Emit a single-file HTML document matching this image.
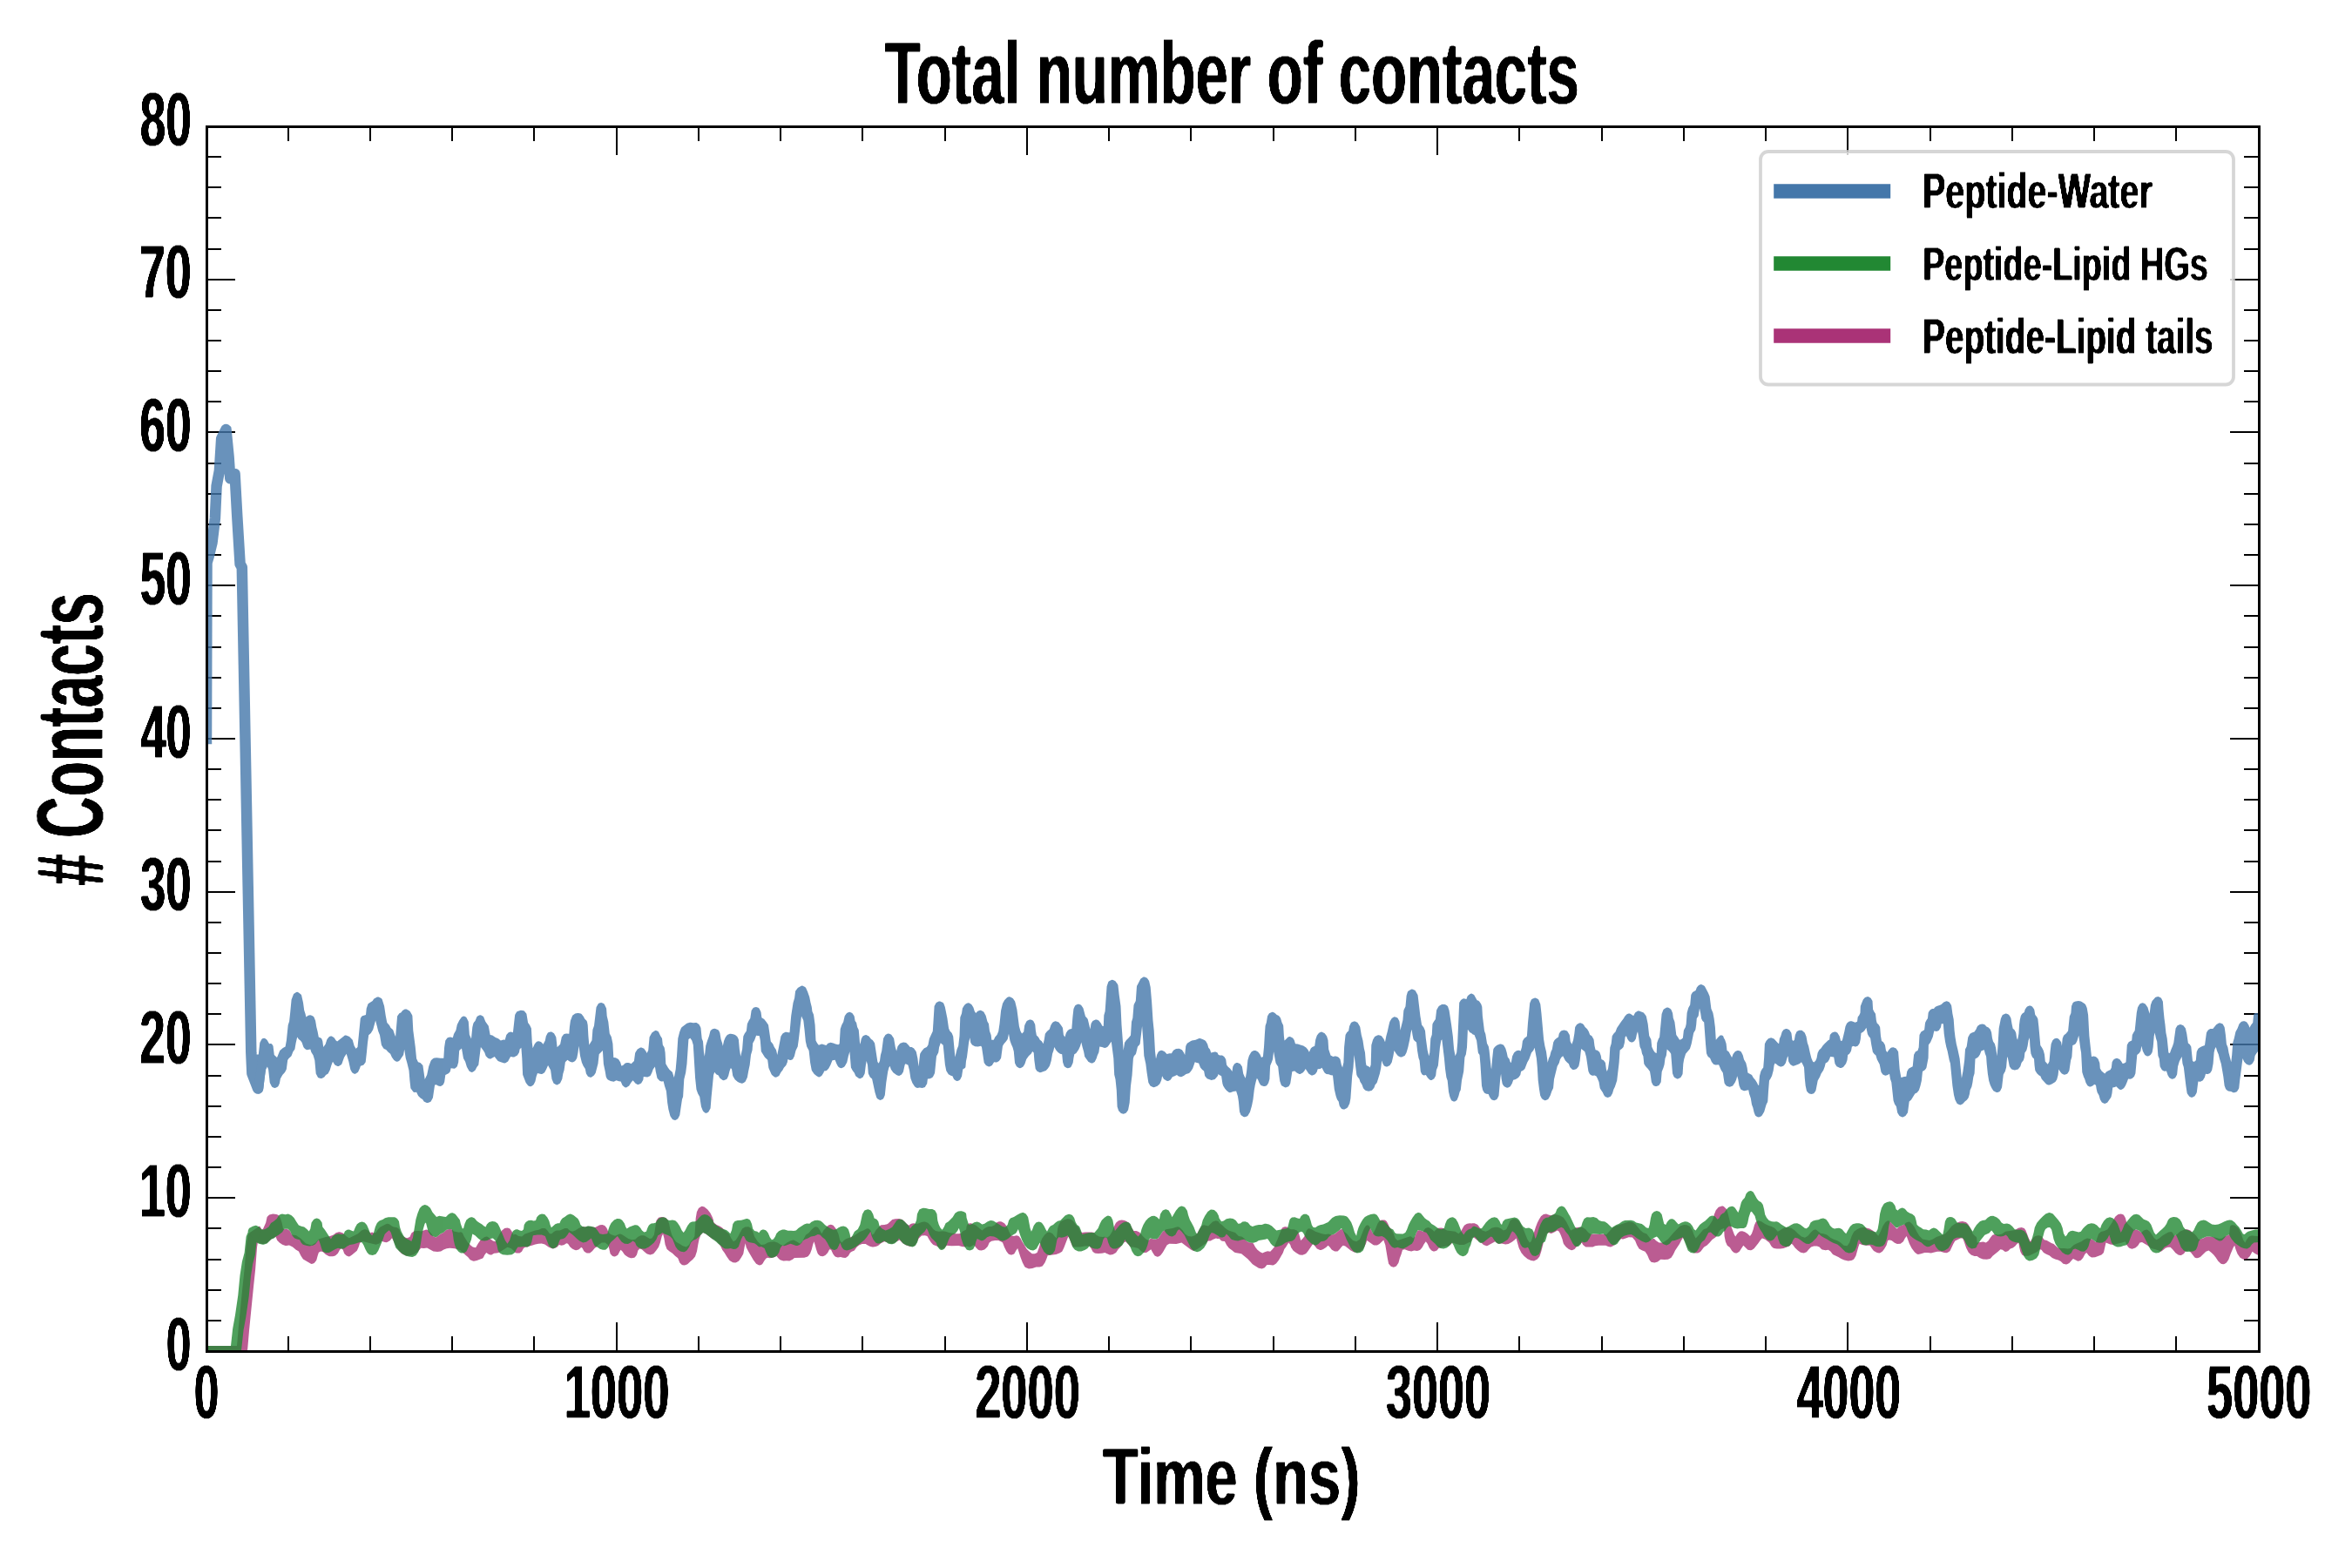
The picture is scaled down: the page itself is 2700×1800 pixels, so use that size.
<!DOCTYPE html>
<html lang="en"><head><meta charset="utf-8"><title>Total number of contacts</title>
<style>html,body{margin:0;padding:0;background:#fff}svg{display:block}</style></head>
<body>
<svg width="2700" height="1800" viewBox="0 0 2700 1800">
<defs><filter id="tw" filterUnits="userSpaceOnUse" x="0" y="0" width="2700" height="1800"><feGaussianBlur in="SourceGraphic" stdDeviation="0.8 0"/><feComponentTransfer><feFuncA type="linear" slope="3" intercept="-0.4"/></feComponentTransfer><feGaussianBlur stdDeviation="0 0.8"/><feComponentTransfer><feFuncA type="linear" slope="3" intercept="-1.6"/></feComponentTransfer></filter><filter id="twr" filterUnits="userSpaceOnUse" x="0" y="0" width="2700" height="1800"><feGaussianBlur in="SourceGraphic" stdDeviation="0 0.8"/><feComponentTransfer><feFuncA type="linear" slope="3" intercept="-0.4"/></feComponentTransfer><feGaussianBlur stdDeviation="0.8 0"/><feComponentTransfer><feFuncA type="linear" slope="3" intercept="-1.6"/></feComponentTransfer></filter><clipPath id="ax"><rect x="237.5" y="145.5" width="2356.0" height="1406.0"/></clipPath></defs>
<rect width="2700" height="1800" fill="#fff"/>
<path d="M237,1551.5v-33.5M237,145.5v32.5M331,1551.5v-17.5M331,145.5v16.5M425,1551.5v-17.5M425,145.5v16.5M519,1551.5v-17.5M519,145.5v16.5M613,1551.5v-17.5M613,145.5v16.5M708,1551.5v-33.5M708,145.5v32.5M802,1551.5v-17.5M802,145.5v16.5M896,1551.5v-17.5M896,145.5v16.5M990,1551.5v-17.5M990,145.5v16.5M1085,1551.5v-17.5M1085,145.5v16.5M1179,1551.5v-33.5M1179,145.5v32.5M1273,1551.5v-17.5M1273,145.5v16.5M1367,1551.5v-17.5M1367,145.5v16.5M1462,1551.5v-17.5M1462,145.5v16.5M1556,1551.5v-17.5M1556,145.5v16.5M1650,1551.5v-33.5M1650,145.5v32.5M1744,1551.5v-17.5M1744,145.5v16.5M1839,1551.5v-17.5M1839,145.5v16.5M1933,1551.5v-17.5M1933,145.5v16.5M2027,1551.5v-17.5M2027,145.5v16.5M2121,1551.5v-33.5M2121,145.5v32.5M2216,1551.5v-17.5M2216,145.5v16.5M2310,1551.5v-17.5M2310,145.5v16.5M2404,1551.5v-17.5M2404,145.5v16.5M2498,1551.5v-17.5M2498,145.5v16.5M2593,1551.5v-33.5M2593,145.5v32.5M237.5,1551h32.5M2593.5,1551h-33.5M237.5,1516h16.5M2593.5,1516h-17.5M237.5,1481h16.5M2593.5,1481h-17.5M237.5,1446h16.5M2593.5,1446h-17.5M237.5,1410h16.5M2593.5,1410h-17.5M237.5,1375h32.5M2593.5,1375h-33.5M237.5,1340h16.5M2593.5,1340h-17.5M237.5,1305h16.5M2593.5,1305h-17.5M237.5,1270h16.5M2593.5,1270h-17.5M237.5,1235h16.5M2593.5,1235h-17.5M237.5,1199h32.5M2593.5,1199h-33.5M237.5,1164h16.5M2593.5,1164h-17.5M237.5,1129h16.5M2593.5,1129h-17.5M237.5,1094h16.5M2593.5,1094h-17.5M237.5,1059h16.5M2593.5,1059h-17.5M237.5,1024h32.5M2593.5,1024h-33.5M237.5,989h16.5M2593.5,989h-17.5M237.5,953h16.5M2593.5,953h-17.5M237.5,918h16.5M2593.5,918h-17.5M237.5,883h16.5M2593.5,883h-17.5M237.5,848h32.5M2593.5,848h-33.5M237.5,813h16.5M2593.5,813h-17.5M237.5,778h16.5M2593.5,778h-17.5M237.5,743h16.5M2593.5,743h-17.5M237.5,707h16.5M2593.5,707h-17.5M237.5,672h32.5M2593.5,672h-33.5M237.5,637h16.5M2593.5,637h-17.5M237.5,602h16.5M2593.5,602h-17.5M237.5,567h16.5M2593.5,567h-17.5M237.5,532h16.5M2593.5,532h-17.5M237.5,496h32.5M2593.5,496h-33.5M237.5,461h16.5M2593.5,461h-17.5M237.5,426h16.5M2593.5,426h-17.5M237.5,391h16.5M2593.5,391h-17.5M237.5,356h16.5M2593.5,356h-17.5M237.5,321h32.5M2593.5,321h-33.5M237.5,286h16.5M2593.5,286h-17.5M237.5,250h16.5M2593.5,250h-17.5M237.5,215h16.5M2593.5,215h-17.5M237.5,180h16.5M2593.5,180h-17.5M237.5,145h32.5M2593.5,145h-33.5" stroke="#000" stroke-width="2" fill="none"/>
<g clip-path="url(#ax)">
<g opacity="0.8" fill="#AA3377" stroke="#AA3377" stroke-linejoin="round">
<polyline fill="none" stroke-width="12.5" stroke-linecap="square" points="230.0,1551.3 277.7,1551.3 279.9,1525.8 281.8,1506.7 283.7,1487.6 285.0,1474.8 286.9,1456.9 288.8,1431.4 290.6,1419.9 296.3,1416.1"/>
<path stroke="none" d="M295.6,1424.6L295.9,1426.0L296.9,1427.0L300.8,1428.1L302.0,1428.1L306.5,1426.9L309.8,1423.7L312.7,1421.4L316.7,1420.0L318.1,1423.7L320.8,1426.5L324.1,1428.7L327.6,1430.0L328.8,1430.1L332.0,1429.5L336.0,1431.5L339.5,1434.5L342.9,1436.5L345.5,1441.8L348.0,1445.4L356.5,1450.6L357.6,1450.9L358.7,1450.7L360.7,1449.9L362.9,1447.2L363.4,1446.2L364.6,1441.7L365.9,1437.8L368.4,1436.5L370.9,1437.2L373.8,1440.1L377.4,1442.0L378.5,1442.3L382.0,1442.2L384.2,1441.8L385.5,1441.1L387.9,1438.7L390.0,1434.8L392.0,1432.7L393.8,1435.1L395.0,1438.5L395.6,1439.5L397.8,1441.6L399.7,1442.3L400.9,1442.4L401.9,1441.9L404.1,1440.4L409.8,1435.8L411.7,1431.6L413.1,1427.0L416.2,1425.1L431.5,1428.8L435.3,1427.5L437.9,1424.4L440.8,1425.8L443.4,1426.2L444.5,1426.1L447.1,1424.6L447.8,1424.1L450.0,1421.3L455.1,1431.3L457.8,1435.4L460.9,1439.0L466.0,1441.6L470.1,1441.6L474.9,1440.3L479.8,1436.7L483.2,1432.7L486.6,1432.9L490.2,1432.5L497.5,1436.4L502.1,1437.1L506.1,1436.5L509.4,1434.6L512.7,1433.3L516.2,1432.7L519.5,1433.0L522.0,1433.3L524.6,1434.0L528.5,1435.3L529.9,1437.0L531.6,1438.1L534.1,1440.6L537.1,1443.0L539.8,1446.2L542.8,1447.6L543.9,1447.8L547.5,1446.9L551.3,1445.6L554.1,1444.5L554.9,1443.5L556.4,1440.5L558.3,1438.0L560.4,1439.6L561.3,1440.0L562.9,1440.5L564.3,1440.5L567.2,1438.7L570.0,1438.6L572.5,1437.9L575.0,1436.6L582.5,1431.7L586.5,1433.0L589.4,1435.4L591.5,1437.9L593.0,1438.5L595.7,1438.6L596.5,1438.5L597.2,1438.1L599.0,1436.7L601.0,1432.9L602.9,1431.7L605.4,1431.6L608.5,1430.2L610.7,1429.7L614.5,1428.4L618.2,1427.8L621.8,1427.6L625.4,1428.6L630.0,1431.7L633.9,1433.2L635.1,1433.4L639.8,1431.5L641.8,1429.1L644.4,1429.7L647.0,1429.2L648.0,1428.7L650.2,1427.2L652.0,1427.8L654.3,1431.3L656.9,1433.4L660.0,1435.0L661.3,1435.3L664.2,1434.4L665.2,1433.8L667.3,1431.7L668.7,1433.1L670.2,1436.1L671.1,1437.1L673.7,1438.6L676.0,1438.6L677.1,1438.4L679.9,1436.3L682.8,1432.8L684.7,1431.5L687.2,1429.0L690.8,1426.6L694.7,1426.5L697.9,1429.1L699.2,1433.0L700.6,1439.2L702.9,1441.8L704.0,1442.2L705.9,1442.4L707.0,1442.0L708.8,1440.9L709.7,1439.9L711.3,1436.8L712.6,1434.8L714.6,1436.8L716.8,1440.1L717.5,1440.8L721.2,1443.2L724.1,1444.2L725.3,1444.3L728.2,1443.7L729.1,1443.0L731.0,1440.5L732.4,1435.5L734.3,1433.6L736.8,1434.2L739.5,1436.8L742.2,1439.0L743.0,1439.4L746.4,1440.4L747.2,1440.3L750.2,1439.2L753.3,1435.6L756.1,1431.4L757.9,1426.4L759.8,1419.0L761.1,1416.4L762.4,1421.5L763.6,1428.8L765.6,1434.1L768.6,1436.6L772.0,1438.8L775.0,1441.7L778.2,1444.3L780.3,1449.5L782.2,1451.5L783.5,1452.2L785.9,1452.6L788.7,1451.6L789.5,1451.0L792.3,1448.3L795.3,1445.8L797.8,1442.8L798.2,1442.1L800.0,1436.5L801.3,1429.1L802.6,1422.6L804.5,1417.6L807.0,1415.1L810.3,1416.4L816.7,1421.5L818.1,1422.4L819.7,1422.8L822.2,1424.7L824.7,1427.2L827.1,1430.2L829.3,1435.1L831.6,1437.9L834.3,1442.6L837.1,1446.5L837.9,1447.2L841.3,1449.2L844.3,1449.4L845.7,1449.1L848.2,1447.5L850.8,1443.8L853.1,1439.7L853.4,1438.8L854.6,1431.7L855.7,1427.2L856.7,1431.9L859.2,1436.8L864.9,1446.4L868.1,1450.7L870.9,1452.2L872.2,1452.4L874.2,1451.7L875.2,1451.1L877.6,1447.0L879.5,1444.4L881.4,1443.8L883.3,1444.3L887.4,1443.8L891.6,1441.9L893.1,1443.9L895.5,1446.2L899.3,1447.5L903.0,1447.2L906.3,1447.5L909.9,1445.8L912.0,1444.1L923.2,1443.8L926.6,1442.7L927.8,1441.9L930.0,1438.9L931.8,1434.3L933.1,1429.1L934.4,1425.3L935.6,1429.1L937.0,1434.3L938.6,1438.8L939.2,1439.7L941.4,1441.7L944.3,1442.3L945.3,1442.1L947.4,1441.0L950.1,1438.3L952.2,1434.2L954.1,1434.8L956.3,1439.6L958.2,1442.0L959.2,1442.7L961.8,1443.6L965.0,1442.9L967.8,1443.8L970.4,1444.0L971.5,1443.6L973.8,1441.8L976.0,1437.9L977.9,1436.7L980.8,1435.4L983.6,1431.5L986.5,1429.2L989.7,1427.9L993.7,1428.1L996.1,1429.6L998.5,1430.8L1001.5,1431.5L1002.5,1431.5L1005.4,1430.9L1008.0,1429.9L1011.6,1427.1L1015.4,1425.3L1023.3,1427.8L1024.6,1427.8L1032.6,1423.4L1036.2,1427.0L1039.8,1429.2L1044.7,1430.9L1048.7,1430.5L1050.0,1429.9L1050.4,1429.4L1052.4,1426.4L1054.8,1421.6L1058.0,1418.4L1061.8,1418.2L1064.4,1418.9L1066.5,1422.8L1068.8,1426.3L1071.1,1428.7L1072.1,1429.3L1074.8,1430.2L1077.1,1431.6L1079.3,1433.3L1080.5,1433.8L1081.7,1433.8L1084.2,1432.8L1086.8,1429.7L1088.9,1430.1L1092.4,1430.3L1100.6,1430.1L1104.1,1431.0L1107.8,1431.6L1108.5,1431.5L1109.6,1430.6L1112.4,1431.4L1113.7,1431.4L1117.9,1429.1L1120.9,1432.8L1123.0,1434.7L1124.3,1435.3L1126.8,1435.6L1130.1,1434.4L1131.0,1433.8L1133.5,1431.3L1134.0,1430.6L1135.7,1426.5L1138.1,1424.7L1142.2,1424.0L1146.1,1424.1L1149.0,1425.2L1151.0,1426.5L1153.0,1431.8L1155.4,1436.5L1157.5,1439.3L1158.1,1439.8L1158.8,1440.1L1160.3,1440.6L1161.5,1440.6L1164.1,1439.4L1164.8,1438.5L1166.4,1435.4L1168.2,1432.9L1171.5,1443.2L1173.9,1449.4L1176.1,1453.8L1176.4,1454.3L1177.4,1455.0L1181.0,1456.4L1185.2,1455.9L1189.5,1454.6L1193.5,1454.5L1196.6,1453.4L1197.4,1452.6L1199.6,1449.3L1201.4,1445.1L1202.7,1441.2L1208.5,1440.5L1212.4,1439.9L1216.3,1438.5L1219.2,1436.7L1221.2,1432.8L1226.3,1419.6L1227.6,1422.1L1230.8,1430.0L1231.4,1431.0L1231.9,1431.3L1233.1,1431.6L1240.0,1431.6L1245.6,1430.4L1250.5,1430.6L1252.5,1433.0L1254.4,1436.7L1256.3,1438.2L1257.6,1438.7L1260.9,1439.0L1265.0,1438.7L1268.4,1438.0L1273.8,1440.6L1275.0,1440.6L1277.6,1440.0L1281.1,1438.0L1283.6,1434.3L1286.3,1431.5L1290.0,1426.6L1292.6,1425.3L1293.5,1426.8L1295.7,1429.0L1297.0,1430.6L1297.8,1431.4L1299.0,1431.6L1301.7,1431.7L1306.6,1432.9L1310.2,1436.4L1313.0,1437.9L1315.3,1438.0L1316.4,1437.8L1321.3,1434.2L1323.3,1438.1L1325.6,1441.5L1326.6,1442.1L1328.6,1442.7L1329.9,1442.4L1331.7,1441.4L1332.5,1440.8L1334.8,1437.8L1339.7,1429.2L1342.4,1427.8L1350.4,1428.0L1356.4,1426.6L1367.0,1434.6L1369.4,1435.7L1370.7,1435.8L1374.4,1434.1L1381.8,1429.1L1385.0,1426.6L1387.0,1424.6L1389.5,1424.5L1392.8,1422.7L1395.9,1421.5L1397.6,1422.1L1398.9,1422.1L1399.6,1421.7L1401.9,1424.3L1403.1,1424.7L1405.9,1425.0L1408.1,1429.3L1410.8,1432.7L1414.3,1435.2L1416.9,1437.5L1418.1,1438.1L1425.1,1439.3L1432.1,1445.1L1435.2,1448.2L1437.6,1451.1L1438.2,1451.6L1444.9,1455.8L1448.7,1456.4L1451.8,1455.2L1454.4,1452.1L1457.5,1452.0L1461.1,1452.6L1462.2,1452.2L1464.9,1450.4L1467.9,1446.7L1472.8,1438.2L1474.3,1434.0L1476.2,1431.5L1479.3,1426.6L1481.2,1429.1L1482.1,1432.0L1484.7,1435.7L1487.7,1438.1L1491.0,1440.0L1491.9,1440.4L1495.2,1440.7L1498.4,1439.5L1499.5,1438.8L1501.7,1436.0L1507.3,1427.8L1511.9,1433.5L1515.3,1435.0L1516.5,1434.9L1519.1,1434.0L1522.2,1432.1L1524.6,1429.7L1526.4,1431.6L1528.7,1434.5L1529.4,1435.1L1532.2,1436.6L1534.6,1436.5L1535.4,1436.4L1536.0,1435.9L1537.8,1434.3L1539.9,1431.6L1541.8,1429.7L1544.3,1430.4L1550.6,1435.4L1553.5,1437.1L1554.4,1437.5L1557.7,1437.9L1561.5,1436.7L1565.1,1433.2L1567.9,1428.0L1569.2,1424.0L1576.3,1429.0L1577.5,1429.4L1579.9,1429.6L1580.7,1429.6L1581.4,1429.3L1583.6,1428.0L1588.3,1423.4L1590.3,1429.2L1592.8,1444.3L1594.1,1450.7L1596.7,1453.8L1599.0,1454.6L1599.8,1454.7L1600.6,1454.5L1602.9,1453.5L1605.4,1449.8L1606.9,1444.3L1608.7,1439.4L1610.0,1435.0L1610.2,1434.8L1612.6,1434.2L1616.5,1435.8L1620.2,1436.6L1623.4,1435.5L1626.6,1436.0L1627.9,1435.8L1629.8,1435.1L1630.8,1434.3L1632.8,1431.8L1634.8,1427.9L1636.8,1425.3L1638.8,1427.9L1640.8,1432.5L1642.8,1434.9L1643.8,1435.7L1645.4,1436.4L1646.7,1436.5L1649.5,1435.4L1651.7,1432.8L1655.4,1431.6L1660.3,1430.4L1662.9,1430.2L1665.4,1428.6L1667.4,1426.6L1670.8,1427.8L1675.4,1429.0L1680.2,1429.1L1681.3,1428.8L1685.8,1426.6L1688.2,1425.7L1689.1,1424.6L1689.6,1421.2L1691.5,1420.2L1695.5,1423.4L1700.3,1426.5L1703.0,1429.0L1706.4,1430.2L1707.7,1429.9L1716.3,1425.3L1718.8,1427.2L1719.9,1427.7L1723.8,1427.6L1728.2,1428.4L1731.6,1428.0L1735.6,1425.8L1738.6,1423.4L1740.6,1421.5L1741.9,1426.6L1743.7,1432.7L1746.5,1438.2L1749.7,1442.0L1753.6,1445.2L1757.5,1447.0L1761.0,1447.4L1764.8,1445.6L1767.1,1442.8L1767.5,1442.1L1769.3,1436.6L1773.1,1421.6L1775.7,1416.3L1777.6,1415.1L1780.5,1415.9L1781.6,1415.7L1784.7,1414.3L1787.8,1412.5L1789.7,1413.8L1791.6,1417.5L1793.5,1422.6L1794.7,1427.3L1795.2,1428.2L1797.8,1431.4L1800.9,1434.0L1804.0,1435.2L1805.3,1435.1L1807.5,1434.1L1809.6,1431.5L1815.8,1426.6L1817.2,1429.0L1819.6,1431.1L1820.6,1431.6L1827.5,1431.6L1828.4,1431.5L1831.3,1430.3L1835.1,1429.7L1843.3,1429.7L1846.1,1431.1L1848.7,1431.5L1849.8,1431.2L1851.8,1430.2L1854.8,1427.7L1858.6,1423.9L1861.1,1422.1L1862.1,1422.5L1863.4,1422.4L1869.8,1420.2L1873.9,1420.4L1877.1,1424.2L1879.1,1429.3L1881.6,1433.5L1885.3,1435.4L1888.5,1436.8L1891.0,1440.4L1893.3,1446.0L1895.0,1448.2L1895.9,1448.9L1896.4,1449.0L1899.4,1449.6L1902.9,1448.4L1906.4,1445.7L1910.7,1445.9L1914.7,1445.7L1915.9,1445.3L1918.5,1443.7L1920.9,1440.1L1923.0,1435.4L1928.0,1427.9L1930.0,1423.9L1931.9,1420.8L1934.5,1425.3L1937.5,1432.5L1938.0,1433.3L1941.2,1436.4L1945.3,1438.6L1948.4,1438.6L1949.7,1438.3L1951.9,1437.0L1952.6,1436.3L1956.0,1431.8L1959.6,1429.5L1962.6,1426.4L1965.6,1422.9L1969.2,1420.4L1971.6,1417.4L1973.5,1413.6L1975.8,1411.3L1979.1,1410.0L1979.6,1419.3L1980.9,1425.5L1982.8,1429.7L1985.8,1432.1L1988.1,1435.7L1989.9,1437.5L1991.2,1438.2L1992.6,1438.5L1993.9,1438.4L1996.7,1436.7L2001.3,1429.7L2006.4,1434.7L2009.3,1435.3L2009.9,1435.3L2011.0,1435.0L2013.6,1433.2L2018.4,1427.3L2021.0,1423.4L2022.9,1421.5L2026.3,1422.8L2031.1,1426.4L2033.4,1430.6L2035.1,1432.3L2036.5,1433.0L2039.7,1433.5L2043.8,1433.5L2047.5,1433.0L2054.1,1430.5L2056.7,1427.8L2058.1,1429.1L2060.7,1432.4L2063.9,1435.6L2067.0,1437.7L2070.8,1438.5L2073.9,1437.3L2076.6,1434.1L2079.1,1431.6L2082.2,1430.4L2085.9,1430.6L2088.6,1431.6L2090.7,1433.7L2091.8,1434.4L2094.6,1435.1L2095.5,1435.2L2098.8,1434.8L2101.3,1436.6L2103.6,1439.5L2104.4,1440.2L2110.3,1443.1L2113.6,1445.1L2117.1,1446.6L2121.6,1447.5L2125.4,1447.0L2127.5,1446.0L2128.5,1445.0L2130.5,1441.5L2133.3,1431.6L2134.6,1427.8L2137.5,1429.1L2142.0,1429.7L2146.6,1429.7L2148.7,1433.0L2150.8,1435.7L2151.5,1436.3L2154.7,1438.1L2157.2,1438.5L2158.3,1438.2L2160.3,1437.0L2161.0,1436.4L2163.1,1433.7L2165.6,1429.4L2167.1,1424.0L2169.0,1423.4L2171.4,1423.9L2175.0,1426.7L2177.9,1428.0L2181.7,1427.7L2184.9,1425.2L2186.8,1421.5L2188.7,1418.9L2191.9,1427.7L2194.6,1433.1L2198.0,1437.6L2200.5,1439.6L2201.9,1440.1L2205.3,1439.3L2209.4,1438.0L2212.9,1438.0L2216.8,1438.6L2220.7,1437.4L2224.0,1436.7L2227.8,1436.8L2231.8,1438.0L2234.4,1438.2L2235.5,1438.0L2238.0,1436.5L2238.8,1435.5L2242.3,1427.9L2244.3,1424.6L2250.5,1421.5L2253.0,1421.4L2253.2,1421.6L2255.1,1426.5L2257.1,1432.4L2259.8,1437.7L2262.4,1440.2L2263.2,1440.8L2266.6,1442.0L2269.6,1441.9L2272.4,1443.9L2276.3,1445.5L2280.8,1445.8L2284.5,1445.0L2285.4,1444.3L2287.5,1441.8L2293.7,1436.8L2296.4,1434.2L2298.9,1434.8L2301.0,1436.5L2302.1,1437.0L2303.4,1436.8L2304.8,1436.3L2305.6,1435.7L2307.8,1433.6L2310.7,1432.4L2313.3,1430.6L2315.4,1428.0L2317.4,1426.6L2318.1,1431.8L2319.4,1437.0L2321.3,1440.5L2323.2,1441.6L2324.4,1441.8L2328.3,1441.8L2329.4,1441.6L2338.7,1436.9L2341.5,1434.3L2341.8,1434.2L2343.5,1434.8L2345.8,1437.7L2346.5,1438.2L2349.1,1439.8L2352.6,1441.3L2355.9,1443.9L2359.2,1445.5L2362.8,1446.4L2365.7,1448.1L2368.5,1450.7L2371.9,1451.5L2373.0,1451.3L2375.4,1450.1L2378.0,1446.9L2379.9,1445.0L2385.3,1447.7L2386.6,1447.6L2388.8,1446.8L2391.2,1444.0L2393.4,1439.8L2395.2,1438.0L2398.0,1441.4L2400.1,1443.1L2401.3,1443.6L2405.1,1443.2L2412.4,1440.5L2414.5,1438.5L2415.1,1437.3L2417.5,1426.6L2422.4,1428.4L2425.8,1429.0L2435.9,1426.6L2439.8,1425.3L2441.6,1429.4L2443.8,1432.3L2445.0,1433.1L2447.5,1433.8L2451.3,1432.6L2454.2,1430.0L2456.4,1426.5L2459.0,1425.9L2465.3,1429.7L2469.2,1432.9L2474.3,1434.2L2477.9,1435.4L2478.7,1436.1L2479.8,1436.7L2480.4,1436.7L2481.6,1436.3L2485.9,1432.8L2488.7,1431.7L2491.5,1431.7L2494.1,1434.2L2497.4,1438.2L2500.5,1440.5L2502.7,1441.0L2503.9,1441.0L2506.4,1439.5L2507.1,1438.9L2508.7,1436.8L2512.5,1435.5L2515.2,1438.1L2519.4,1443.4L2520.5,1443.9L2522.0,1444.2L2523.4,1444.1L2525.9,1443.1L2532.3,1436.7L2535.5,1435.5L2538.6,1438.0L2541.2,1440.5L2543.8,1443.8L2546.2,1447.4L2549.0,1450.2L2550.3,1450.9L2552.4,1451.3L2553.6,1450.9L2555.9,1449.4L2558.3,1445.9L2560.7,1439.2L2563.9,1431.8L2565.2,1429.8L2566.5,1434.3L2568.6,1439.6L2571.6,1443.7L2575.4,1445.8L2578.4,1445.5L2579.8,1444.9L2582.6,1442.2L2585.6,1436.8L2588.2,1438.7L2590.9,1440.3L2592.2,1440.7L2593.5,1440.6L2594.0,1440.3L2594.9,1439.4L2595.2,1438.2L2595.2,1421.8L2595.1,1421.2L2594.5,1420.1L2593.5,1419.4L2592.9,1419.3L2585.6,1418.4L2584.3,1418.5L2582.4,1419.3L2581.3,1420.0L2579.1,1422.9L2577.3,1426.5L2575.3,1423.8L2572.9,1416.5L2569.9,1410.4L2569.2,1409.6L2566.3,1407.2L2565.1,1406.6L2562.2,1406.2L2560.9,1406.7L2560.4,1407.2L2559.9,1408.5L2559.1,1417.2L2553.8,1419.4L2550.8,1421.4L2547.8,1422.0L2543.6,1420.8L2540.6,1420.1L2537.0,1419.5L2533.5,1419.5L2532.4,1419.8L2529.2,1421.4L2526.2,1422.6L2524.0,1422.7L2521.3,1418.7L2519.1,1416.5L2516.4,1414.5L2514.4,1412.5L2511.7,1411.4L2510.8,1411.2L2508.7,1411.2L2507.6,1411.5L2502.4,1413.8L2499.7,1416.4L2496.0,1418.8L2494.2,1415.4L2493.4,1414.5L2492.2,1414.1L2489.3,1414.6L2485.6,1416.4L2482.0,1418.8L2478.7,1421.5L2475.6,1423.3L2472.9,1421.3L2468.1,1414.1L2465.3,1411.7L2464.0,1411.5L2460.9,1412.6L2458.3,1415.0L2455.4,1412.7L2452.7,1411.5L2452.0,1411.4L2451.2,1411.4L2449.4,1411.8L2442.3,1404.7L2441.0,1402.5L2439.9,1398.2L2438.4,1395.4L2437.8,1394.7L2437.2,1394.3L2434.7,1393.5L2431.6,1394.1L2428.7,1396.3L2428.1,1396.9L2426.4,1399.8L2424.5,1403.6L2419.4,1411.2L2415.8,1413.1L2411.8,1413.9L2409.6,1415.9L2409.0,1416.8L2407.4,1421.3L2406.0,1425.9L2403.1,1423.5L2400.8,1422.3L2399.7,1422.1L2398.2,1422.0L2396.6,1421.6L2395.9,1421.6L2395.1,1421.7L2392.4,1422.9L2389.3,1425.3L2383.3,1427.7L2380.2,1429.6L2376.7,1432.9L2373.7,1433.5L2369.5,1432.9L2365.8,1432.9L2362.1,1432.2L2357.5,1427.9L2354.9,1427.1L2349.7,1424.0L2348.8,1423.7L2346.7,1423.3L2343.7,1419.2L2342.6,1418.7L2340.8,1418.3L2339.9,1418.3L2337.2,1418.8L2336.0,1419.3L2333.1,1421.8L2330.8,1425.2L2328.9,1421.4L2325.4,1412.2L2323.7,1410.1L2320.6,1409.0L2316.8,1409.7L2313.4,1411.9L2302.1,1413.8L2298.1,1416.4L2293.9,1417.6L2290.6,1417.0L2287.8,1417.6L2286.9,1418.3L2284.9,1420.7L2282.4,1424.4L2279.8,1426.5L2276.6,1425.4L2269.6,1426.5L2269.2,1421.2L2268.8,1420.0L2267.9,1419.2L2267.1,1418.8L2264.7,1416.3L2262.2,1410.2L2259.1,1405.1L2256.9,1403.0L2252.8,1402.1L2249.4,1402.4L2247.3,1403.6L2244.0,1405.0L2240.8,1407.2L2240.2,1407.7L2236.5,1412.6L2232.6,1416.4L2230.1,1417.6L2222.9,1420.0L2218.9,1422.6L2214.9,1424.0L2207.1,1422.6L2203.3,1418.8L2200.3,1413.8L2197.6,1408.5L2195.3,1405.2L2192.5,1402.8L2191.3,1402.6L2188.1,1403.6L2186.2,1405.5L2179.9,1408.1L2177.9,1410.6L2176.6,1409.9L2174.0,1406.7L2169.2,1401.8L2168.6,1401.5L2167.3,1401.3L2166.1,1401.8L2164.2,1403.3L2161.5,1407.2L2158.8,1413.8L2156.2,1418.8L2152.8,1414.9L2149.7,1412.4L2146.3,1410.5L2140.1,1409.0L2139.2,1409.0L2136.3,1409.3L2135.4,1409.5L2131.9,1411.3L2128.7,1413.4L2127.9,1414.4L2125.6,1419.0L2123.1,1426.4L2120.5,1430.3L2116.7,1429.7L2113.0,1426.6L2109.3,1424.2L2105.1,1422.7L2101.5,1420.9L2097.9,1417.9L2097.1,1417.5L2093.5,1416.3L2089.9,1415.7L2087.4,1413.8L2085.7,1412.2L2084.7,1411.5L2083.5,1411.5L2081.7,1412.0L2078.5,1415.0L2075.4,1418.7L2072.0,1420.8L2068.0,1419.4L2064.4,1416.4L2060.4,1412.4L2056.3,1409.8L2052.6,1408.9L2050.6,1408.9L2048.8,1409.2L2046.1,1410.5L2043.2,1412.6L2040.8,1413.8L2037.9,1410.4L2037.1,1409.7L2033.6,1408.0L2029.9,1406.7L2026.2,1404.9L2022.0,1402.2L2018.8,1401.2L2018.2,1401.3L2016.7,1401.9L2016.0,1402.4L2015.5,1403.0L2013.9,1406.4L2012.7,1411.3L2010.9,1416.2L2008.9,1418.9L2006.1,1416.2L2003.0,1414.3L2000.0,1413.2L1997.5,1413.6L1996.3,1414.3L1994.1,1416.6L1992.3,1419.5L1991.0,1417.5L1987.2,1407.5L1983.4,1392.2L1982.3,1388.8L1981.7,1387.8L1979.1,1385.2L1977.9,1384.6L1976.6,1384.5L1972.8,1385.8L1969.8,1389.2L1967.7,1394.6L1965.8,1400.9L1962.5,1406.2L1959.3,1409.9L1956.2,1411.0L1955.1,1411.8L1949.2,1418.8L1946.6,1421.4L1944.6,1417.5L1942.7,1412.3L1940.1,1408.1L1936.4,1406.2L1933.0,1406.1L1929.3,1407.2L1928.3,1407.8L1921.2,1415.0L1914.8,1422.6L1910.9,1425.2L1908.2,1426.5L1904.5,1426.5L1900.8,1424.1L1899.8,1422.8L1898.8,1422.1L1897.6,1422.1L1897.0,1422.3L1895.6,1423.3L1890.4,1416.4L1886.5,1414.9L1883.4,1412.4L1877.3,1405.2L1874.3,1403.2L1873.4,1402.9L1870.7,1402.4L1869.5,1402.5L1854.5,1407.6L1850.7,1410.1L1847.2,1413.7L1843.9,1417.6L1840.7,1416.4L1836.7,1416.9L1829.6,1416.4L1826.7,1416.9L1823.7,1415.2L1820.0,1411.0L1816.4,1408.8L1812.9,1408.7L1809.3,1409.2L1803.1,1412.5L1798.1,1402.5L1795.1,1398.3L1794.4,1397.6L1791.3,1395.8L1787.6,1394.6L1784.0,1394.1L1780.6,1395.2L1778.3,1394.7L1775.0,1393.5L1771.9,1394.1L1769.6,1395.7L1769.0,1396.3L1766.7,1399.9L1764.8,1403.7L1762.9,1408.7L1757.8,1425.1L1755.9,1426.5L1753.3,1422.6L1748.3,1410.0L1745.6,1404.7L1743.1,1401.1L1739.9,1399.2L1736.8,1399.2L1733.9,1400.9L1733.3,1401.8L1731.6,1406.2L1729.1,1411.2L1725.9,1412.5L1723.0,1410.2L1720.0,1408.9L1719.1,1408.7L1716.1,1408.7L1712.3,1409.8L1708.5,1412.6L1705.4,1413.7L1701.6,1412.4L1699.2,1410.0L1696.9,1406.7L1696.0,1405.8L1692.7,1404.3L1690.2,1404.2L1689.1,1404.4L1687.4,1404.3L1684.5,1404.8L1683.6,1405.1L1680.9,1406.8L1679.0,1409.9L1677.1,1413.6L1674.4,1416.3L1670.6,1413.8L1661.2,1412.5L1658.7,1411.3L1657.2,1410.0L1654.4,1409.4L1650.9,1409.8L1649.0,1411.1L1646.4,1413.7L1643.6,1411.1L1641.0,1409.4L1639.6,1408.9L1637.0,1409.7L1636.1,1410.2L1633.6,1413.7L1629.7,1412.3L1628.4,1412.3L1627.8,1412.6L1626.9,1413.5L1626.1,1414.9L1624.0,1420.1L1622.1,1421.4L1620.1,1419.6L1618.8,1419.2L1604.3,1424.0L1601.7,1421.4L1599.8,1416.2L1597.4,1411.5L1594.8,1408.2L1593.3,1404.7L1591.9,1402.3L1590.9,1401.3L1589.5,1400.6L1588.4,1400.4L1586.7,1400.4L1584.8,1400.8L1583.7,1401.4L1581.5,1404.6L1578.8,1411.3L1576.2,1416.3L1571.6,1407.2L1570.5,1406.5L1569.9,1406.4L1569.2,1406.5L1568.1,1407.0L1565.9,1410.2L1560.9,1422.7L1557.1,1425.2L1553.2,1423.9L1549.5,1420.2L1546.4,1416.5L1543.2,1413.9L1541.4,1411.6L1540.3,1411.1L1539.1,1411.2L1538.5,1411.4L1531.6,1417.0L1528.4,1417.6L1525.2,1416.4L1521.2,1416.9L1517.5,1416.3L1510.1,1413.8L1506.3,1411.4L1503.0,1410.3L1501.7,1410.6L1499.8,1412.5L1497.6,1419.1L1495.8,1421.5L1493.3,1423.9L1490.9,1415.5L1490.5,1414.7L1488.8,1412.6L1486.1,1411.4L1485.2,1411.2L1481.8,1411.2L1479.5,1410.0L1478.0,1408.8L1476.1,1408.2L1474.8,1408.2L1472.7,1408.9L1471.8,1409.8L1471.1,1411.1L1466.5,1422.7L1464.6,1426.7L1462.8,1431.5L1460.8,1434.1L1458.2,1436.7L1455.1,1436.2L1452.0,1437.3L1449.3,1438.6L1446.7,1437.3L1443.5,1434.7L1441.1,1431.7L1439.1,1428.0L1438.3,1427.1L1437.2,1426.6L1433.8,1426.2L1430.9,1424.7L1428.5,1421.7L1426.2,1419.9L1425.1,1419.4L1421.9,1418.9L1418.0,1415.1L1410.3,1412.4L1406.7,1410.0L1402.9,1406.3L1399.7,1403.9L1399.2,1402.8L1398.4,1401.9L1395.9,1401.2L1392.1,1402.4L1387.0,1407.4L1382.2,1406.3L1381.1,1406.5L1379.9,1407.1L1379.0,1408.0L1376.9,1411.1L1374.2,1416.3L1371.5,1418.3L1368.0,1419.5L1364.0,1418.9L1360.3,1416.4L1357.5,1412.3L1354.1,1409.0L1353.1,1408.4L1351.9,1408.3L1349.9,1408.7L1346.1,1410.0L1338.5,1411.3L1334.7,1413.8L1329.6,1421.4L1326.4,1422.7L1322.0,1421.9L1320.6,1421.9L1319.5,1422.7L1318.7,1424.0L1315.5,1422.6L1311.8,1418.9L1309.7,1416.2L1307.9,1414.5L1305.2,1413.3L1304.2,1413.1L1301.5,1413.1L1299.6,1410.0L1297.0,1404.9L1294.1,1402.5L1291.0,1401.0L1287.7,1400.5L1285.0,1400.9L1283.8,1401.4L1281.6,1403.2L1280.9,1404.1L1279.3,1407.3L1276.6,1413.9L1273.6,1418.7L1270.9,1420.8L1268.6,1419.7L1267.5,1419.7L1265.8,1420.1L1261.8,1419.4L1258.2,1417.6L1256.8,1415.8L1255.9,1415.1L1253.3,1414.5L1245.7,1414.4L1242.2,1415.0L1240.3,1413.8L1238.6,1409.8L1238.1,1409.0L1235.3,1406.2L1232.3,1402.1L1229.4,1399.8L1226.2,1399.2L1225.1,1399.3L1221.0,1400.5L1218.1,1401.9L1217.4,1402.4L1217.0,1403.0L1215.4,1406.3L1214.2,1409.7L1212.9,1421.4L1210.9,1419.5L1208.7,1416.7L1208.0,1416.1L1205.5,1414.7L1204.3,1414.6L1202.1,1415.1L1199.2,1417.4L1196.2,1421.7L1194.4,1426.6L1192.5,1432.9L1190.6,1437.9L1187.9,1439.3L1184.8,1439.3L1181.7,1436.8L1178.6,1433.7L1175.8,1429.0L1173.4,1425.3L1171.5,1421.6L1169.7,1419.2L1168.7,1418.7L1167.0,1418.3L1163.8,1418.9L1160.6,1418.2L1158.1,1413.2L1157.3,1411.1L1155.3,1407.2L1153.2,1404.6L1152.5,1404.0L1150.3,1402.7L1149.1,1402.3L1147.1,1402.3L1146.0,1402.6L1144.0,1403.6L1142.0,1406.2L1138.3,1408.0L1135.0,1408.0L1133.9,1408.3L1130.4,1410.1L1127.4,1412.5L1120.1,1406.6L1117.8,1405.4L1114.7,1404.3L1111.9,1404.6L1110.8,1405.4L1109.7,1407.2L1109.1,1411.5L1104.7,1413.8L1103.4,1415.7L1100.7,1416.3L1097.1,1416.3L1089.4,1415.1L1085.7,1413.8L1082.1,1413.2L1077.7,1413.7L1074.0,1413.1L1071.4,1411.1L1068.4,1406.9L1065.5,1404.0L1064.5,1403.4L1061.9,1402.5L1060.7,1402.4L1057.8,1402.9L1053.6,1404.8L1051.6,1404.8L1048.5,1404.3L1046.1,1404.7L1044.8,1405.4L1043.4,1406.7L1040.9,1404.9L1038.3,1402.3L1035.7,1400.1L1031.7,1399.1L1027.8,1399.2L1024.3,1400.1L1019.0,1404.9L1015.5,1406.1L1011.6,1406.2L1010.0,1407.2L1007.6,1410.0L1005.4,1412.2L1003.2,1416.3L1001.3,1417.6L999.6,1413.0L999.0,1412.1L997.9,1410.9L996.8,1410.3L996.1,1410.2L994.7,1410.5L991.0,1412.5L987.0,1414.0L979.5,1418.9L975.2,1420.8L971.0,1422.3L968.7,1424.1L966.3,1426.5L964.3,1424.0L962.5,1416.5L960.4,1411.7L959.2,1409.9L956.6,1406.8L954.8,1406.0L953.5,1405.8L951.6,1406.2L949.5,1407.8L947.7,1410.0L945.5,1412.2L943.3,1416.3L941.3,1412.4L939.0,1409.0L938.4,1408.7L936.8,1408.3L935.4,1408.4L934.7,1408.8L931.7,1411.4L928.5,1415.2L924.9,1417.7L921.1,1425.1L918.4,1427.8L914.5,1425.2L911.7,1423.8L910.4,1423.5L907.1,1424.6L903.4,1426.4L899.3,1429.7L896.6,1429.0L892.6,1426.4L888.7,1425.3L884.9,1425.4L881.3,1426.6L877.8,1428.4L873.8,1429.1L869.9,1425.2L866.2,1419.7L864.1,1413.6L862.2,1410.0L859.8,1408.5L859.1,1408.2L855.3,1408.5L852.1,1410.6L849.6,1415.0L847.0,1420.1L844.5,1423.8L841.9,1425.2L839.4,1421.5L837.0,1416.8L836.4,1416.0L833.5,1413.7L828.9,1409.2L826.1,1407.5L822.6,1406.0L820.1,1404.1L819.2,1402.9L819.0,1400.7L817.9,1397.4L815.4,1392.4L812.3,1388.5L808.6,1385.6L806.9,1384.9L805.7,1384.8L804.6,1385.2L802.0,1387.0L799.9,1391.2L798.7,1398.6L797.4,1419.0L795.6,1422.5L792.8,1425.6L791.0,1429.1L787.9,1431.6L783.9,1430.3L780.3,1427.9L776.3,1425.8L773.8,1422.6L771.2,1417.5L769.4,1411.3L768.1,1404.7L766.7,1400.4L764.2,1397.9L759.8,1397.0L756.8,1397.6L755.8,1398.1L753.5,1401.1L750.9,1417.6L748.3,1421.4L745.9,1422.0L740.0,1418.6L738.7,1418.2L736.2,1418.2L735.0,1418.5L732.1,1420.0L729.2,1422.7L725.4,1423.3L721.4,1422.0L714.2,1417.2L712.2,1416.6L711.1,1416.5L710.5,1416.7L706.1,1418.8L702.5,1417.6L699.9,1416.3L698.0,1413.2L696.5,1409.7L695.1,1407.9L694.2,1407.1L691.5,1406.0L688.8,1406.3L688.0,1406.6L683.3,1408.9L675.4,1407.7L672.0,1408.4L668.6,1408.1L664.3,1409.9L660.4,1412.4L657.1,1413.8L653.9,1412.5L651.6,1410.3L651.0,1410.0L649.3,1409.9L648.4,1410.1L642.7,1412.4L639.2,1412.5L638.1,1412.8L635.8,1414.1L633.4,1416.3L631.0,1416.3L628.6,1412.7L626.1,1410.3L624.8,1409.9L622.1,1410.0L618.4,1411.8L614.2,1412.6L603.4,1416.2L602.5,1416.6L599.1,1419.5L595.3,1418.9L592.2,1416.9L590.7,1416.9L589.5,1417.6L587.6,1413.7L585.6,1410.7L584.9,1410.3L582.5,1409.4L579.3,1410.0L575.9,1412.8L573.5,1416.5L569.1,1425.2L565.9,1424.6L559.8,1419.8L558.5,1419.6L556.4,1420.0L553.4,1421.9L551.4,1423.8L548.7,1427.7L546.1,1432.3L542.8,1431.5L539.9,1429.2L539.1,1427.9L537.2,1426.5L532.8,1419.6L531.2,1415.9L530.5,1415.0L529.5,1414.4L528.9,1414.3L527.0,1414.8L521.0,1413.6L519.3,1411.8L518.1,1411.1L515.5,1411.1L512.6,1411.8L509.3,1414.8L505.9,1416.4L500.4,1420.6L497.2,1419.3L495.1,1415.9L491.5,1412.3L490.4,1411.7L489.2,1411.6L483.8,1413.6L480.4,1412.9L478.3,1412.9L476.1,1413.2L475.1,1413.6L472.4,1415.6L470.4,1419.9L467.2,1421.2L463.3,1419.8L459.7,1415.0L458.2,1411.1L456.3,1409.5L455.2,1409.0L451.8,1408.4L449.5,1407.2L446.8,1405.3L444.6,1404.8L443.5,1405.1L436.3,1408.8L433.9,1411.2L431.4,1414.9L429.0,1415.5L428.3,1414.9L427.1,1414.6L425.8,1414.9L425.2,1415.5L422.5,1412.4L419.6,1411.3L418.8,1411.2L418.0,1411.3L415.0,1412.4L410.9,1416.2L400.9,1421.2L398.2,1419.8L395.1,1416.7L393.2,1415.2L390.0,1414.3L388.9,1414.3L385.6,1415.2L383.2,1417.3L381.7,1418.1L378.1,1419.3L373.9,1420.0L365.9,1422.6L362.5,1426.4L357.7,1429.4L357.4,1429.5L351.2,1427.6L345.0,1421.4L340.1,1418.3L339.2,1418.0L335.2,1417.4L333.1,1413.6L331.0,1411.4L329.7,1411.0L326.7,1411.0L325.0,1410.4L323.7,1403.9L321.9,1398.5L320.3,1395.7L319.3,1394.8L317.4,1393.9L313.3,1393.6L309.1,1394.5L306.6,1397.0L305.2,1403.5L302.2,1410.2L300.0,1412.7L297.7,1417.2L295.8,1423.5Z"/>
</g>
<g opacity="0.8" fill="#228833" stroke="#228833" stroke-linejoin="round">
<polyline fill="none" stroke-width="12.5" stroke-linecap="square" points="230.0,1551.3 270.6,1551.3 273.4,1525.8 276.2,1510.5 279.5,1487.6 281.7,1464.6 284.1,1449.3 286.8,1439.1 288.7,1421.2 291.2,1415.1 296.3,1416.8"/>
<path stroke="none" d="M284.9,1412.2L284.6,1413.5L285.1,1414.8L289.9,1421.1L294.1,1425.9L294.9,1426.5L297.3,1427.7L301.4,1428.7L302.7,1428.7L306.5,1427.5L311.6,1422.5L314.1,1421.8L316.6,1419.5L319.4,1417.9L323.3,1415.1L324.0,1414.4L326.3,1410.8L330.6,1410.8L333.2,1413.4L335.1,1417.7L337.4,1420.7L338.4,1421.5L340.8,1422.4L344.1,1423.2L345.5,1426.3L347.5,1428.4L348.6,1429.1L352.2,1430.1L355.3,1430.4L359.2,1429.7L362.0,1428.2L364.5,1425.1L365.8,1423.2L367.1,1426.4L369.0,1432.7L370.3,1436.1L371.2,1437.0L374.2,1438.3L377.9,1438.0L384.9,1434.0L388.0,1432.8L392.5,1433.7L395.1,1433.3L398.4,1430.7L401.6,1428.9L406.2,1428.2L413.7,1425.7L415.7,1426.5L417.5,1429.6L419.4,1434.0L421.6,1438.1L423.9,1440.2L427.7,1440.9L430.7,1440.0L431.7,1439.4L432.0,1439.0L434.2,1435.7L439.2,1423.8L441.7,1416.8L444.2,1414.3L446.8,1412.3L448.8,1415.1L452.6,1427.5L454.3,1432.2L454.9,1433.1L458.4,1436.6L462.4,1439.8L466.2,1441.7L469.6,1442.6L473.1,1442.9L474.2,1442.7L477.4,1441.3L480.1,1437.5L482.0,1432.5L483.2,1426.3L484.5,1417.4L485.8,1411.0L487.6,1404.8L488.9,1403.4L491.4,1413.2L491.7,1413.9L494.1,1417.4L497.0,1419.2L499.1,1420.1L500.4,1420.2L501.5,1419.7L506.0,1416.2L509.3,1414.8L512.5,1411.7L515.6,1411.0L518.5,1411.0L519.8,1416.1L520.8,1423.7L522.2,1429.7L524.2,1434.2L526.6,1437.1L529.0,1438.4L530.1,1438.6L532.7,1438.5L534.8,1437.1L535.6,1436.2L537.3,1432.8L541.0,1422.9L542.3,1416.4L545.4,1418.2L548.8,1421.5L551.4,1423.6L552.5,1424.1L556.1,1424.5L559.1,1424.1L559.9,1423.7L562.9,1422.0L565.9,1421.4L568.5,1424.1L570.4,1429.2L571.6,1435.0L571.9,1435.8L573.7,1438.6L577.0,1440.2L582.3,1440.8L587.6,1440.2L590.3,1438.4L591.1,1437.5L592.8,1434.1L594.6,1431.6L598.0,1431.6L601.4,1431.0L605.1,1431.5L606.2,1431.2L608.0,1430.1L608.6,1429.6L609.0,1429.0L610.4,1425.5L611.8,1418.4L612.0,1418.2L616.9,1417.6L621.9,1417.4L625.8,1418.9L629.9,1429.4L631.9,1431.8L632.7,1432.5L634.5,1433.3L635.8,1433.1L637.9,1432.2L640.3,1429.4L640.7,1428.7L641.9,1425.2L643.1,1422.7L646.6,1421.9L648.8,1420.7L651.3,1417.7L653.3,1414.4L655.2,1415.7L658.3,1418.2L661.7,1421.5L665.2,1424.4L669.3,1426.4L673.0,1425.8L678.8,1421.5L680.8,1426.6L682.5,1430.0L683.5,1430.7L685.9,1431.7L688.7,1433.7L691.1,1434.6L692.0,1434.8L695.0,1434.7L696.1,1434.1L697.6,1432.6L698.1,1431.8L699.8,1427.9L701.7,1425.4L704.4,1423.2L708.8,1418.9L711.3,1422.6L713.6,1425.5L716.5,1427.5L717.7,1427.8L720.9,1428.0L723.9,1426.6L726.6,1424.6L729.2,1426.5L730.5,1429.7L733.0,1432.2L736.5,1433.4L740.6,1433.5L744.7,1431.5L750.6,1426.8L753.3,1422.9L755.3,1418.3L758.1,1416.8L760.4,1415.1L762.7,1416.4L766.3,1417.7L769.5,1419.6L772.0,1422.3L775.6,1431.3L778.0,1434.5L781.1,1436.5L781.9,1436.8L785.0,1437.2L786.1,1436.9L788.0,1435.7L788.8,1435.0L791.1,1431.4L793.1,1426.4L795.5,1424.0L799.0,1422.5L801.8,1420.2L807.0,1415.1L810.3,1416.4L819.4,1423.6L822.2,1425.4L824.5,1427.7L827.1,1429.7L829.4,1431.8L831.7,1433.2L833.0,1433.5L835.8,1433.5L838.7,1432.9L841.9,1434.1L844.5,1433.7L845.5,1433.2L847.0,1432.1L847.9,1430.9L850.8,1422.8L852.7,1419.0L852.9,1418.9L854.0,1418.9L856.6,1423.9L858.7,1425.6L859.7,1426.0L866.1,1427.2L868.6,1429.0L870.7,1431.0L872.0,1431.4L873.8,1431.0L877.6,1432.9L879.6,1438.1L881.5,1441.8L884.3,1443.6L885.6,1443.9L889.4,1442.9L892.2,1441.1L894.3,1437.7L895.8,1432.7L898.0,1429.7L899.9,1430.2L901.3,1430.1L907.6,1427.8L913.8,1429.9L915.4,1429.9L917.2,1429.3L918.2,1428.7L920.2,1426.7L922.1,1424.1L924.1,1422.8L927.4,1421.4L931.0,1419.6L935.3,1418.7L938.8,1417.0L941.4,1417.6L944.0,1420.2L947.0,1422.6L949.6,1426.5L952.5,1431.9L954.8,1434.1L957.6,1435.0L958.9,1434.7L961.1,1433.5L963.0,1429.8L964.3,1426.6L966.5,1431.9L968.2,1434.1L969.2,1434.8L972.1,1435.4L973.1,1435.3L976.7,1434.3L979.5,1433.0L983.0,1430.9L992.2,1423.5L994.9,1420.2L999.4,1413.8L1000.6,1418.7L1002.5,1423.0L1005.2,1426.5L1007.4,1427.4L1008.0,1427.6L1009.3,1427.4L1011.7,1426.4L1014.7,1424.6L1017.2,1425.8L1019.9,1427.7L1023.0,1428.3L1024.2,1428.2L1026.9,1427.4L1027.9,1426.8L1030.2,1424.4L1031.9,1421.5L1036.1,1426.8L1036.8,1427.4L1039.9,1429.2L1046.4,1431.3L1047.5,1431.4L1049.7,1430.6L1050.9,1429.7L1053.1,1426.1L1054.2,1421.6L1055.5,1418.9L1058.8,1416.2L1061.7,1413.4L1063.8,1410.0L1065.1,1412.6L1066.9,1417.3L1069.4,1421.2L1074.7,1426.5L1076.5,1431.3L1078.1,1433.6L1079.1,1434.4L1080.7,1434.9L1082.1,1434.7L1084.2,1433.5L1086.7,1429.3L1088.7,1424.0L1090.5,1420.3L1093.0,1417.7L1096.5,1415.9L1097.3,1415.3L1099.3,1412.7L1100.8,1409.7L1102.1,1413.9L1103.4,1421.6L1105.8,1428.7L1109.7,1434.4L1110.9,1435.1L1113.4,1435.6L1116.3,1434.5L1117.3,1433.8L1117.6,1433.3L1119.2,1430.1L1120.4,1425.3L1121.7,1422.1L1126.3,1424.2L1127.4,1424.3L1128.0,1424.2L1130.3,1422.9L1133.2,1420.2L1136.5,1418.9L1141.0,1419.6L1144.1,1420.9L1146.8,1423.1L1147.6,1423.5L1150.2,1424.4L1151.0,1424.5L1151.8,1424.4L1155.1,1423.2L1157.8,1421.6L1160.8,1418.8L1165.7,1416.0L1166.7,1415.1L1168.9,1411.0L1171.4,1418.8L1173.4,1424.1L1176.1,1429.3L1179.4,1433.1L1182.9,1435.1L1186.0,1435.4L1187.4,1435.1L1189.8,1433.5L1193.7,1426.6L1195.7,1431.8L1198.5,1437.0L1201.5,1439.8L1204.4,1440.6L1204.9,1440.7L1206.0,1440.4L1208.4,1439.2L1210.7,1435.9L1211.1,1435.0L1213.5,1422.8L1215.3,1420.3L1215.6,1420.2L1218.7,1420.7L1219.8,1420.6L1222.7,1419.8L1225.6,1418.3L1227.6,1421.5L1231.6,1431.9L1234.0,1434.8L1237.8,1436.6L1241.2,1436.5L1245.3,1434.9L1248.2,1433.2L1248.9,1432.5L1250.5,1430.4L1253.4,1432.4L1256.6,1433.6L1260.1,1433.8L1262.5,1432.7L1262.9,1432.4L1263.6,1431.4L1265.1,1428.0L1266.5,1422.7L1268.4,1420.2L1270.9,1421.4L1272.3,1426.7L1274.2,1430.9L1276.6,1433.0L1277.1,1433.3L1278.2,1433.5L1280.5,1433.5L1281.7,1433.3L1285.0,1431.6L1288.1,1429.7L1289.9,1426.8L1291.3,1422.7L1292.4,1424.9L1295.2,1427.9L1297.6,1431.5L1299.5,1436.5L1301.8,1440.0L1302.8,1440.9L1305.1,1442.0L1306.3,1442.3L1309.3,1441.4L1310.2,1440.8L1313.1,1437.8L1315.4,1434.4L1317.4,1429.2L1318.7,1424.1L1320.0,1421.5L1325.7,1422.6L1327.1,1422.4L1328.9,1421.7L1330.0,1420.8L1334.7,1413.8L1336.6,1412.5L1338.9,1416.0L1341.8,1418.5L1343.0,1419.0L1345.3,1419.4L1346.4,1419.3L1349.3,1417.5L1351.9,1412.5L1353.8,1411.3L1356.4,1413.8L1359.6,1417.7L1367.0,1432.5L1367.5,1433.2L1370.4,1436.0L1374.2,1437.2L1377.6,1436.2L1378.4,1435.8L1382.1,1432.6L1385.2,1427.6L1388.8,1417.8L1390.8,1415.1L1393.5,1415.8L1398.9,1419.0L1400.2,1420.2L1402.0,1420.6L1403.4,1420.5L1405.9,1419.4L1407.9,1416.4L1410.4,1418.9L1413.1,1422.2L1414.3,1422.9L1417.6,1424.0L1421.2,1424.5L1425.2,1423.3L1428.3,1422.7L1431.0,1424.7L1433.6,1426.1L1434.5,1426.3L1438.0,1426.7L1438.9,1426.7L1442.3,1425.8L1445.0,1424.0L1452.4,1422.7L1455.0,1422.1L1456.9,1424.6L1458.7,1427.5L1461.1,1430.0L1461.9,1430.5L1464.6,1431.5L1468.6,1430.6L1471.9,1429.2L1475.7,1426.5L1479.2,1425.3L1482.6,1424.7L1483.5,1424.4L1485.7,1423.1L1486.6,1422.1L1488.2,1418.8L1490.1,1415.7L1491.9,1414.5L1494.0,1413.8L1495.9,1415.1L1497.9,1419.0L1500.2,1422.5L1503.4,1425.8L1506.4,1428.2L1507.1,1428.6L1509.4,1429.4L1510.9,1429.4L1513.5,1428.0L1516.3,1425.3L1519.6,1424.7L1520.5,1424.4L1522.9,1423.0L1523.6,1422.3L1525.3,1420.1L1528.3,1417.7L1531.0,1417.1L1532.0,1416.6L1537.2,1412.6L1539.9,1410.0L1541.8,1412.7L1545.7,1422.8L1550.6,1432.6L1553.9,1436.7L1557.7,1438.5L1561.5,1437.9L1564.3,1435.9L1565.0,1434.9L1566.7,1430.8L1569.2,1419.5L1571.1,1413.9L1573.0,1410.0L1576.0,1416.0L1578.2,1418.3L1579.6,1419.0L1582.2,1419.4L1586.4,1418.9L1589.5,1420.7L1592.7,1423.9L1595.5,1428.6L1598.0,1431.6L1600.8,1432.7L1602.0,1432.5L1604.3,1431.7L1607.7,1433.0L1610.4,1433.4L1611.4,1433.2L1614.4,1431.7L1620.8,1427.8L1622.6,1424.9L1624.1,1420.1L1625.9,1415.2L1627.9,1411.9L1630.5,1412.5L1637.4,1415.1L1640.0,1418.8L1642.2,1423.0L1644.6,1425.3L1647.5,1427.7L1650.5,1431.2L1653.4,1433.1L1657.2,1433.5L1660.6,1432.4L1661.4,1432.0L1664.0,1429.9L1666.8,1426.6L1668.7,1429.6L1670.6,1434.2L1672.8,1438.3L1675.8,1441.1L1679.2,1442.3L1680.4,1442.1L1682.7,1441.1L1685.2,1438.0L1686.5,1433.0L1688.3,1429.3L1689.5,1424.7L1690.8,1421.5L1692.8,1419.5L1694.7,1421.5L1697.4,1425.4L1698.7,1426.6L1699.8,1427.0L1701.7,1426.6L1702.8,1426.2L1708.7,1421.4L1711.4,1419.6L1713.2,1420.2L1715.2,1423.5L1717.7,1426.5L1720.0,1427.7L1721.1,1427.9L1724.3,1427.0L1730.0,1423.6L1730.7,1423.0L1732.4,1420.5L1734.2,1416.4L1736.1,1413.2L1738.8,1415.2L1741.2,1418.8L1743.7,1423.9L1745.6,1428.7L1747.2,1431.1L1748.3,1431.9L1750.5,1432.7L1751.7,1432.5L1754.0,1431.7L1755.3,1434.3L1756.4,1437.6L1758.5,1440.5L1758.9,1440.9L1759.9,1441.4L1762.6,1441.9L1763.8,1441.6L1766.0,1440.3L1766.6,1439.8L1767.1,1439.1L1768.7,1435.3L1769.9,1430.4L1771.1,1426.7L1773.4,1425.4L1773.8,1424.9L1775.0,1421.5L1776.4,1416.2L1778.2,1414.4L1781.6,1414.4L1782.5,1414.2L1784.9,1413.3L1788.5,1410.5L1792.2,1408.7L1794.8,1410.0L1797.4,1413.9L1800.4,1417.5L1805.5,1427.6L1807.4,1430.1L1808.7,1430.9L1811.6,1430.9L1812.7,1430.3L1814.5,1428.4L1815.9,1425.3L1818.1,1426.2L1819.3,1426.3L1822.1,1425.2L1824.6,1421.6L1826.7,1417.0L1829.4,1416.3L1836.6,1416.9L1840.7,1416.3L1843.8,1419.4L1846.3,1424.4L1849.2,1427.9L1850.3,1428.7L1853.1,1429.5L1854.5,1429.1L1856.6,1427.8L1861.3,1420.7L1864.5,1418.8L1868.7,1417.6L1872.5,1417.0L1875.7,1418.8L1879.1,1421.5L1885.1,1425.1L1889.2,1426.4L1892.3,1425.8L1898.6,1420.9L1901.9,1419.5L1903.9,1421.5L1906.6,1425.4L1909.2,1428.0L1910.2,1428.6L1913.0,1429.5L1914.4,1429.1L1916.2,1428.0L1916.9,1427.5L1919.2,1424.6L1922.5,1423.9L1926.1,1422.7L1931.9,1420.2L1937.7,1435.4L1940.9,1437.9L1943.8,1438.5L1944.9,1438.4L1947.4,1437.0L1948.2,1436.3L1950.5,1432.6L1952.4,1427.7L1954.1,1425.4L1956.4,1423.7L1957.0,1422.9L1961.3,1415.1L1963.8,1414.4L1966.5,1417.1L1969.3,1419.3L1970.4,1419.5L1973.0,1419.5L1974.1,1419.0L1976.2,1417.2L1978.5,1413.8L1979.4,1413.6L1980.0,1413.2L1982.2,1409.8L1984.7,1407.4L1987.6,1408.0L1990.8,1409.8L1994.2,1410.5L1998.0,1410.0L2001.9,1409.9L2004.1,1408.8L2004.8,1407.8L2006.3,1403.8L2007.6,1397.3L2009.5,1391.6L2010.8,1390.8L2014.6,1395.9L2016.0,1401.2L2017.9,1406.2L2020.3,1411.1L2023.0,1415.1L2025.6,1419.7L2028.2,1422.8L2029.3,1423.6L2032.2,1424.4L2033.4,1424.3L2035.1,1423.6L2036.1,1422.8L2040.1,1417.6L2041.5,1422.8L2043.4,1427.8L2046.6,1430.3L2050.4,1431.3L2053.4,1430.6L2054.1,1430.2L2054.7,1429.7L2056.9,1426.9L2058.6,1422.9L2060.6,1420.8L2063.9,1421.5L2067.0,1423.4L2070.3,1426.0L2073.3,1427.7L2076.3,1428.0L2077.4,1427.8L2080.5,1425.7L2085.2,1421.0L2088.0,1416.4L2090.8,1419.0L2093.8,1420.8L2097.6,1422.7L2101.5,1425.3L2105.0,1427.1L2109.2,1428.6L2112.3,1431.0L2118.6,1437.3L2122.4,1438.6L2126.2,1437.9L2129.4,1435.4L2131.3,1431.2L2132.6,1425.4L2133.9,1422.7L2136.0,1426.1L2137.8,1428.2L2138.4,1428.7L2139.2,1429.0L2142.2,1429.6L2146.2,1428.5L2149.7,1429.1L2153.3,1430.8L2154.1,1431.0L2157.0,1431.3L2157.9,1431.3L2160.7,1430.5L2161.8,1429.9L2163.8,1427.8L2165.8,1422.5L2167.1,1416.3L2168.3,1407.5L2169.6,1402.3L2174.0,1406.7L2176.0,1409.0L2177.2,1409.5L2178.5,1409.3L2180.0,1408.0L2186.2,1405.5L2188.1,1408.6L2190.0,1413.6L2192.3,1417.8L2192.9,1418.5L2195.9,1420.9L2199.7,1423.4L2205.8,1426.4L2208.7,1429.2L2211.5,1431.1L2212.7,1431.3L2214.9,1430.9L2220.6,1427.8L2222.4,1431.4L2224.7,1434.3L2225.7,1435.1L2228.7,1436.3L2229.8,1436.3L2232.4,1435.6L2236.5,1432.9L2239.0,1429.2L2241.0,1425.3L2242.9,1422.2L2246.4,1420.8L2252.5,1420.8L2255.2,1423.6L2257.1,1428.0L2259.6,1431.6L2263.4,1433.4L2267.5,1432.8L2268.9,1431.8L2269.7,1429.5L2273.4,1424.0L2278.4,1417.7L2283.5,1415.6L2286.1,1412.5L2287.5,1413.9L2289.4,1416.9L2292.1,1418.6L2293.0,1419.0L2296.8,1419.4L2299.8,1418.9L2302.7,1417.6L2304.7,1419.6L2306.6,1422.7L2310.0,1425.0L2314.0,1426.2L2317.4,1426.5L2319.3,1430.5L2321.3,1436.8L2323.3,1442.1L2325.7,1445.6L2328.7,1447.2L2329.8,1447.5L2333.6,1446.8L2337.3,1444.7L2338.1,1443.9L2340.1,1440.9L2340.5,1440.1L2341.6,1435.4L2344.2,1422.8L2345.5,1418.8L2346.8,1413.7L2348.1,1411.1L2350.6,1409.3L2353.0,1409.0L2353.2,1409.1L2355.1,1411.4L2356.3,1416.4L2357.5,1422.5L2359.6,1428.0L2361.9,1431.4L2364.6,1434.2L2367.5,1437.7L2370.6,1439.7L2371.4,1440.0L2373.7,1440.4L2375.1,1440.2L2377.6,1438.4L2378.2,1437.5L2379.9,1434.2L2382.3,1433.6L2385.5,1434.8L2388.9,1436.6L2391.8,1436.7L2392.9,1436.5L2393.3,1436.2L2395.8,1434.1L2397.6,1430.6L2399.0,1425.3L2400.3,1422.1L2402.7,1423.3L2405.6,1425.5L2406.6,1426.0L2410.2,1426.8L2413.7,1426.5L2416.5,1424.8L2417.2,1424.3L2419.6,1421.2L2421.3,1417.6L2422.6,1421.4L2424.0,1426.5L2426.1,1429.3L2426.9,1430.0L2429.7,1431.3L2431.0,1431.6L2434.4,1431.3L2437.9,1430.1L2440.4,1429.5L2441.6,1428.8L2443.4,1426.9L2443.8,1426.1L2447.5,1416.4L2449.3,1412.7L2452.0,1411.3L2455.3,1412.6L2458.4,1415.2L2460.9,1418.9L2468.7,1434.4L2471.2,1437.3L2474.9,1438.6L2478.7,1437.9L2481.8,1434.9L2484.5,1431.6L2488.1,1429.8L2491.1,1427.5L2491.7,1426.8L2494.0,1422.8L2496.0,1418.9L2497.9,1417.6L2499.8,1421.5L2503.5,1431.2L2503.9,1432.0L2506.8,1435.4L2509.4,1436.7L2510.7,1436.9L2517.6,1436.6L2520.1,1435.2L2520.7,1434.7L2521.2,1434.1L2522.7,1430.5L2524.0,1425.3L2525.8,1422.8L2533.0,1419.5L2536.9,1419.5L2540.6,1420.2L2544.0,1422.8L2547.4,1424.4L2548.5,1424.4L2550.8,1423.9L2553.2,1421.6L2555.3,1418.9L2557.7,1417.7L2559.1,1417.2L2560.2,1419.7L2561.9,1422.5L2565.4,1426.7L2568.5,1429.1L2572.4,1431.7L2575.7,1433.0L2579.0,1433.5L2579.8,1433.4L2580.6,1433.1L2583.0,1431.6L2584.8,1428.7L2587.4,1426.6L2593.5,1426.0L2594.0,1425.7L2594.9,1424.8L2595.2,1423.6L2595.2,1413.9L2594.8,1412.6L2593.8,1411.7L2592.5,1411.4L2589.0,1411.6L2585.0,1412.5L2580.8,1413.7L2578.8,1414.9L2576.7,1416.9L2574.9,1416.4L2572.7,1412.4L2570.1,1408.5L2567.7,1406.1L2565.4,1403.2L2562.0,1400.8L2559.4,1400.5L2556.8,1401.0L2553.5,1402.3L2549.6,1404.2L2546.5,1405.4L2542.7,1406.1L2539.2,1405.4L2532.5,1401.2L2529.8,1400.5L2526.4,1401.2L2525.5,1401.6L2522.8,1403.6L2520.3,1407.9L2518.4,1412.3L2516.4,1414.4L2512.7,1412.6L2508.7,1411.2L2506.3,1408.2L2504.5,1403.3L2502.3,1399.8L2499.1,1397.5L2495.8,1397.0L2494.9,1397.0L2492.2,1397.7L2491.0,1398.3L2489.3,1400.0L2488.8,1400.8L2487.0,1404.9L2485.0,1408.1L2482.5,1410.6L2479.3,1413.2L2474.9,1417.6L2472.9,1414.9L2469.3,1405.8L2466.9,1402.6L2464.3,1400.9L2460.9,1399.7L2455.8,1394.7L2452.6,1393.7L2449.9,1394.3L2449.0,1394.6L2446.0,1396.9L2438.8,1405.8L2436.6,1411.3L2434.7,1415.0L2431.0,1405.1L2428.5,1401.3L2425.2,1398.3L2422.0,1397.3L2418.2,1398.5L2415.2,1401.4L2412.5,1405.9L2411.1,1409.9L2409.7,1409.2L2407.1,1406.6L2404.1,1404.7L2400.8,1404.3L2399.8,1404.4L2396.9,1405.3L2396.1,1405.8L2393.4,1407.9L2391.0,1410.4L2388.8,1413.8L2386.3,1414.4L2380.3,1412.9L2379.5,1412.8L2376.7,1413.2L2374.2,1415.1L2372.7,1417.7L2371.0,1419.5L2369.0,1416.1L2367.7,1409.8L2365.7,1404.6L2362.6,1400.3L2356.7,1393.6L2355.7,1392.9L2352.8,1392.0L2351.6,1392.2L2348.3,1393.6L2344.9,1396.5L2341.7,1399.7L2338.3,1403.8L2335.8,1409.0L2334.6,1415.1L2331.4,1426.5L2329.8,1425.1L2326.5,1416.7L2323.7,1413.2L2319.9,1411.6L2315.9,1411.8L2312.9,1411.2L2310.2,1407.9L2307.6,1405.8L2306.7,1405.3L2304.0,1404.6L2300.1,1405.0L2297.6,1403.6L2295.3,1400.1L2292.2,1397.4L2288.1,1395.7L2284.9,1396.0L2281.9,1397.7L2279.1,1400.4L2275.7,1401.1L2272.8,1402.3L2269.1,1406.1L2266.6,1409.8L2264.6,1413.7L2260.3,1407.6L2257.6,1404.9L2254.7,1404.3L2250.5,1404.2L2246.8,1403.6L2244.3,1399.6L2243.5,1398.8L2241.0,1397.3L2238.5,1397.0L2237.2,1397.2L2235.4,1398.1L2234.6,1398.8L2232.9,1401.9L2231.5,1411.3L2230.2,1417.6L2223.6,1410.9L2222.7,1410.4L2220.9,1409.7L2219.7,1409.5L2217.1,1410.5L2214.3,1412.5L2211.3,1411.6L2207.9,1411.2L2205.5,1409.4L2202.9,1408.1L2200.6,1406.1L2199.6,1401.1L2198.5,1397.2L2197.9,1396.1L2196.1,1394.4L2195.3,1393.8L2192.5,1392.7L2189.6,1390.9L2186.8,1387.7L2184.6,1386.7L2183.3,1386.6L2180.9,1387.4L2180.1,1388.0L2178.7,1389.4L2178.4,1389.4L2176.6,1388.3L2175.5,1384.2L2175.1,1383.4L2173.2,1380.9L2172.1,1380.1L2169.6,1379.2L2166.2,1379.9L2163.2,1381.5L2162.3,1382.5L2159.9,1386.7L2158.1,1393.5L2156.9,1403.5L2155.6,1411.0L2153.7,1414.4L2151.1,1413.8L2143.5,1411.2L2140.8,1407.9L2138.8,1405.9L2137.8,1405.3L2134.1,1404.2L2131.0,1404.2L2126.9,1405.2L2124.0,1407.8L2121.2,1412.4L2119.2,1416.3L2117.4,1414.5L2114.7,1411.3L2112.2,1410.0L2110.9,1409.7L2108.6,1409.9L2105.8,1410.6L2103.5,1409.4L2100.9,1406.9L2098.9,1403.2L2096.7,1400.3L2095.7,1399.5L2093.1,1398.6L2090.2,1399.0L2087.5,1400.3L2084.0,1400.8L2081.4,1401.5L2080.6,1401.9L2078.5,1403.6L2076.5,1408.0L2073.9,1410.2L2072.0,1409.9L2066.6,1405.7L2063.1,1404.3L2059.7,1404.5L2058.9,1404.8L2056.0,1406.2L2053.0,1408.0L2050.4,1408.9L2044.7,1405.5L2042.3,1403.5L2040.3,1402.4L2039.2,1402.2L2036.8,1402.5L2034.0,1402.3L2030.7,1401.1L2028.1,1397.9L2026.2,1394.2L2025.1,1388.2L2023.9,1383.6L2023.6,1382.8L2021.6,1380.0L2019.1,1378.7L2017.0,1376.3L2012.7,1368.6L2010.7,1367.3L2009.4,1367.0L2007.0,1367.7L2004.8,1370.0L2004.3,1370.9L2002.9,1374.9L2000.5,1377.6L1998.9,1380.3L1996.8,1388.2L1995.3,1392.1L1992.0,1386.9L1991.1,1386.0L1989.5,1385.0L1988.1,1384.7L1985.2,1385.5L1984.3,1386.1L1982.3,1388.1L1979.2,1392.2L1977.5,1393.0L1975.3,1394.7L1973.4,1398.5L1971.5,1399.7L1968.9,1396.6L1966.6,1395.7L1965.4,1395.5L1962.6,1396.6L1957.5,1401.5L1954.1,1403.7L1951.3,1405.9L1946.6,1412.5L1944.7,1411.2L1942.9,1407.6L1940.5,1404.6L1939.7,1404.0L1937.5,1402.8L1936.5,1402.5L1934.3,1402.3L1933.3,1402.5L1930.3,1403.5L1926.8,1405.5L1924.9,1403.6L1922.3,1400.4L1920.0,1399.3L1919.0,1399.3L1917.3,1399.6L1916.1,1400.3L1913.9,1402.7L1912.2,1406.0L1912.0,1406.0L1910.2,1404.7L1907.6,1394.0L1905.1,1390.9L1901.9,1389.9L1898.8,1390.9L1896.3,1393.4L1894.9,1398.6L1893.7,1406.0L1892.4,1409.9L1889.8,1409.3L1887.1,1406.7L1884.7,1404.9L1878.3,1403.6L1876.2,1401.9L1875.3,1401.5L1872.2,1400.8L1865.4,1401.0L1864.5,1401.2L1862.1,1402.2L1858.7,1404.7L1855.2,1406.2L1850.3,1409.3L1845.4,1404.4L1842.5,1402.6L1841.4,1402.2L1838.7,1402.0L1835.8,1401.1L1833.0,1398.3L1829.2,1397.0L1825.5,1397.4L1821.6,1397.3L1819.1,1398.7L1818.5,1399.2L1818.1,1399.9L1816.5,1403.4L1815.2,1408.0L1810.1,1410.6L1808.1,1408.5L1802.5,1396.6L1800.5,1393.3L1798.5,1389.4L1796.5,1386.4L1795.4,1385.4L1793.7,1384.8L1792.6,1384.6L1790.3,1385.3L1789.2,1386.0L1787.2,1388.3L1785.9,1392.1L1783.9,1394.0L1780.5,1395.4L1777.6,1397.4L1774.4,1397.9L1771.6,1400.1L1771.0,1400.8L1768.6,1405.0L1766.7,1410.0L1764.8,1416.4L1763.0,1421.3L1762.8,1421.4L1762.3,1421.4L1762.2,1421.3L1760.8,1414.8L1759.0,1411.3L1758.3,1410.9L1755.2,1409.4L1751.4,1409.9L1748.4,1408.1L1746.4,1404.9L1744.1,1400.7L1741.8,1398.5L1738.7,1397.5L1734.9,1398.2L1727.9,1399.8L1725.3,1402.3L1724.0,1406.1L1722.7,1404.8L1721.3,1401.4L1718.8,1398.3L1715.7,1397.3L1712.3,1398.1L1708.9,1400.2L1705.7,1403.4L1701.0,1409.9L1698.5,1410.6L1695.5,1408.8L1693.3,1407.9L1692.1,1407.7L1691.6,1407.8L1689.9,1408.8L1689.1,1410.2L1685.6,1411.5L1683.0,1413.5L1680.2,1417.6L1677.6,1413.6L1673.7,1403.4L1671.2,1399.2L1668.9,1397.7L1668.3,1397.4L1667.2,1397.3L1664.3,1397.9L1661.5,1400.0L1660.8,1401.0L1659.2,1404.7L1657.8,1409.9L1654.5,1411.2L1651.5,1410.6L1646.5,1406.8L1643.4,1405.0L1640.6,1401.7L1638.0,1400.3L1635.7,1398.6L1631.0,1392.8L1628.8,1392.1L1627.6,1392.1L1624.7,1393.4L1621.6,1397.7L1619.0,1402.2L1617.1,1406.0L1615.2,1411.2L1613.3,1414.9L1610.5,1416.6L1603.0,1416.3L1601.2,1415.1L1599.3,1411.6L1598.3,1410.9L1596.0,1409.9L1590.7,1403.4L1588.0,1401.4L1586.6,1401.2L1584.5,1401.6L1582.6,1397.7L1580.6,1394.7L1578.1,1393.6L1576.8,1393.5L1573.5,1394.1L1569.6,1395.4L1567.0,1397.0L1566.4,1397.5L1564.2,1400.2L1561.6,1404.8L1559.6,1408.9L1558.1,1413.7L1557.1,1418.8L1555.1,1414.9L1553.2,1408.6L1551.2,1403.3L1548.9,1399.8L1546.7,1397.1L1545.5,1396.3L1542.8,1395.4L1537.8,1395.3L1533.1,1396.1L1529.4,1398.1L1524.6,1402.9L1519.0,1405.4L1515.4,1406.2L1512.8,1407.3L1509.9,1409.3L1507.4,1408.7L1505.9,1406.3L1504.5,1400.9L1502.8,1396.0L1502.2,1395.4L1499.7,1393.7L1496.8,1393.7L1495.8,1394.2L1493.6,1396.0L1492.0,1399.1L1489.6,1398.5L1486.3,1397.3L1484.0,1397.4L1483.2,1397.6L1482.5,1398.0L1481.1,1399.2L1480.4,1400.5L1478.0,1409.9L1465.3,1412.5L1459.8,1407.2L1456.6,1405.6L1453.2,1404.8L1451.8,1404.8L1448.5,1405.9L1445.0,1406.1L1441.3,1406.7L1437.8,1408.0L1435.3,1406.7L1432.7,1403.6L1429.5,1402.2L1426.4,1402.6L1423.8,1404.6L1421.3,1404.8L1419.0,1401.4L1418.3,1400.7L1415.5,1398.9L1412.0,1398.5L1407.9,1399.2L1404.7,1401.6L1402.1,1402.3L1399.6,1398.5L1398.9,1395.6L1396.9,1391.8L1393.9,1389.0L1390.5,1388.4L1389.4,1388.8L1386.4,1390.9L1383.2,1395.8L1380.7,1400.8L1379.3,1406.2L1374.2,1416.6L1372.9,1414.9L1370.4,1408.6L1367.9,1403.7L1365.9,1400.3L1364.0,1394.7L1362.9,1390.0L1362.5,1389.2L1360.3,1386.0L1359.4,1385.4L1356.7,1384.6L1355.5,1384.8L1353.8,1385.5L1352.8,1386.2L1349.9,1389.7L1345.5,1397.2L1344.2,1393.9L1341.6,1389.6L1339.3,1388.5L1337.9,1388.3L1334.8,1389.6L1332.4,1393.0L1332.0,1393.9L1330.9,1399.7L1327.9,1397.0L1325.1,1395.8L1322.0,1396.0L1318.3,1398.3L1315.2,1401.4L1312.5,1405.9L1310.5,1411.1L1309.2,1416.3L1306.6,1419.5L1304.0,1416.9L1301.5,1413.7L1299.6,1410.0L1297.6,1404.9L1295.7,1403.3L1294.5,1402.9L1292.0,1402.6L1289.2,1403.4L1288.4,1403.9L1285.4,1406.3L1279.9,1413.1L1278.6,1407.4L1277.4,1400.7L1275.5,1397.0L1274.4,1396.2L1272.0,1395.5L1270.5,1396.0L1267.9,1397.7L1264.8,1400.7L1262.7,1404.7L1260.6,1410.1L1256.2,1415.3L1252.9,1415.1L1249.5,1415.3L1242.2,1416.9L1241.0,1412.7L1239.3,1408.6L1238.5,1407.6L1236.4,1405.9L1234.7,1403.1L1233.1,1398.1L1230.9,1395.0L1229.8,1394.4L1227.2,1393.8L1226.1,1394.0L1223.5,1395.1L1222.7,1395.6L1217.3,1401.0L1214.2,1401.7L1211.7,1403.5L1209.0,1406.1L1205.9,1407.5L1204.1,1409.8L1202.0,1413.7L1200.7,1411.8L1198.3,1407.0L1196.1,1404.1L1195.1,1403.3L1192.8,1402.5L1191.5,1402.7L1189.3,1403.6L1187.0,1406.4L1186.6,1407.2L1185.2,1411.3L1183.9,1413.7L1182.6,1409.9L1180.2,1397.6L1179.9,1396.8L1177.7,1393.4L1174.9,1392.1L1173.7,1392.1L1171.2,1392.8L1167.5,1394.7L1163.9,1397.1L1160.0,1398.6L1158.1,1401.0L1156.7,1406.1L1154.2,1408.7L1150.8,1407.9L1141.2,1401.9L1140.3,1401.6L1137.7,1401.1L1136.3,1401.3L1133.4,1402.4L1130.2,1404.7L1127.6,1405.4L1127.3,1405.4L1124.6,1403.4L1121.7,1402.4L1118.3,1403.2L1114.9,1405.4L1112.1,1406.1L1109.6,1397.9L1109.2,1393.9L1108.7,1392.6L1106.9,1391.3L1103.9,1390.3L1102.8,1390.2L1100.2,1390.5L1099.0,1390.9L1096.4,1392.8L1093.7,1397.3L1088.8,1402.2L1085.6,1404.3L1083.6,1408.7L1081.7,1411.8L1079.7,1409.8L1077.8,1406.0L1076.3,1400.9L1075.5,1393.4L1073.3,1389.6L1070.2,1388.1L1066.6,1388.0L1062.9,1387.0L1060.0,1386.7L1058.8,1386.9L1056.4,1387.9L1055.4,1388.6L1055.1,1389.1L1053.2,1393.0L1052.9,1393.8L1052.1,1400.8L1050.5,1404.7L1047.1,1407.6L1044.7,1410.6L1043.4,1407.4L1038.3,1402.3L1035.7,1400.1L1032.6,1399.6L1029.4,1401.1L1024.2,1408.7L1020.6,1411.1L1016.6,1412.5L1012.7,1410.4L1009.6,1407.4L1008.3,1402.3L1006.4,1399.8L1003.6,1398.5L1002.2,1393.8L1000.1,1389.9L999.2,1389.2L996.5,1388.2L995.3,1388.4L993.2,1389.2L992.5,1389.6L992.0,1390.3L990.0,1393.7L987.3,1406.0L984.8,1411.1L981.0,1413.8L978.4,1418.8L976.5,1421.4L975.6,1416.5L974.1,1411.7L973.5,1410.8L971.3,1408.5L968.2,1407.5L965.3,1408.0L962.6,1409.2L959.9,1411.2L956.7,1411.8L952.9,1410.0L949.6,1408.0L947.2,1406.2L944.5,1403.5L942.0,1401.4L938.5,1400.8L935.5,1401.0L934.6,1401.2L931.5,1402.8L929.3,1404.8L926.1,1404.5L923.2,1405.4L916.7,1409.8L913.8,1412.5L911.2,1413.1L908.1,1412.8L904.6,1412.8L900.7,1411.5L898.5,1411.5L897.5,1411.7L894.6,1412.9L893.8,1413.5L891.4,1416.1L889.8,1419.8L887.9,1422.5L885.9,1423.3L883.9,1420.6L881.8,1415.4L879.9,1413.0L878.9,1412.3L876.6,1411.4L875.4,1411.6L873.2,1412.6L871.2,1415.3L869.3,1413.8L866.1,1413.1L864.2,1410.6L863.0,1405.1L861.1,1400.7L860.2,1400.0L858.7,1399.2L857.5,1398.9L856.9,1399.0L851.0,1400.7L846.6,1400.9L843.5,1402.1L841.3,1404.9L840.0,1412.3L838.3,1416.3L836.3,1414.0L834.1,1412.2L833.0,1411.8L830.3,1411.1L826.5,1409.3L822.7,1406.7L819.6,1404.2L818.2,1400.7L815.1,1397.0L812.1,1394.7L808.9,1394.1L806.3,1394.7L805.3,1395.3L802.4,1398.0L800.1,1400.9L798.2,1402.2L794.4,1402.5L791.8,1403.7L789.2,1407.3L786.5,1412.6L784.7,1415.0L782.7,1412.4L780.3,1407.5L777.8,1403.8L775.6,1401.6L774.4,1400.9L771.9,1400.4L768.6,1401.0L766.8,1400.4L764.2,1397.9L761.1,1397.3L757.8,1398.1L756.8,1398.6L754.5,1400.7L752.8,1403.6L750.7,1404.2L747.7,1404.6L745.8,1405.7L744.8,1406.8L743.3,1409.8L741.9,1413.8L739.4,1414.4L737.0,1412.6L735.1,1409.6L732.9,1407.3L731.6,1406.6L729.8,1406.3L728.6,1406.3L722.5,1408.6L719.6,1410.6L718.3,1408.5L716.9,1404.6L714.2,1400.8L711.9,1399.2L709.4,1398.9L708.2,1399.1L705.0,1400.4L701.6,1403.9L699.8,1407.6L698.5,1411.3L697.3,1416.3L692.0,1416.9L688.4,1416.3L685.9,1412.6L683.7,1409.8L682.6,1409.1L681.1,1408.5L678.4,1407.7L675.5,1407.4L674.5,1407.5L671.8,1408.4L668.6,1408.0L666.4,1406.1L665.1,1402.1L663.4,1399.1L658.7,1395.2L658.0,1394.7L654.9,1393.6L653.6,1393.7L651.2,1394.7L648.3,1397.1L645.7,1398.5L643.9,1400.8L642.4,1404.2L640.2,1404.3L637.4,1405.2L632.9,1409.3L631.6,1406.0L630.4,1401.4L628.3,1397.4L625.2,1394.1L622.0,1393.4L619.5,1394.2L618.4,1394.9L616.3,1397.2L615.0,1401.0L612.5,1401.6L609.9,1400.8L607.3,1401.0L606.2,1401.3L603.6,1403.0L601.7,1406.1L601.0,1411.2L599.1,1413.1L596.7,1412.5L594.0,1411.3L593.3,1411.3L591.5,1411.5L589.5,1412.7L588.6,1413.8L587.0,1417.5L585.1,1423.8L582.5,1427.8L579.9,1423.9L573.2,1407.9L571.3,1404.6L570.6,1403.9L568.4,1402.4L565.1,1402.1L564.2,1402.2L561.5,1403.0L558.9,1405.5L557.6,1408.6L555.6,1407.6L553.3,1405.6L550.0,1403.6L547.5,1401.8L544.8,1398.5L542.0,1397.2L540.8,1397.2L538.5,1397.9L535.4,1400.4L533.5,1404.7L532.1,1409.9L530.9,1410.6L528.9,1404.9L527.8,1400.2L523.1,1394.2L522.3,1393.6L519.5,1392.3L517.6,1392.4L516.5,1392.9L514.6,1394.3L511.9,1397.0L504.2,1395.8L501.1,1397.0L496.4,1391.4L494.2,1387.2L493.7,1386.5L490.8,1384.0L487.9,1383.1L486.8,1383.3L484.5,1384.3L482.3,1386.4L481.7,1387.3L479.4,1393.1L477.4,1399.7L473.9,1421.1L472.3,1425.0L470.3,1423.7L465.3,1421.2L462.9,1418.1L460.6,1413.6L459.0,1408.6L458.0,1402.1L456.0,1399.0L453.8,1397.6L452.5,1397.2L445.9,1397.2L442.8,1397.9L442.0,1398.3L439.3,1400.1L435.9,1401.3L434.9,1401.9L433.1,1403.7L432.6,1404.4L430.8,1408.6L429.0,1415.3L427.1,1418.6L425.1,1416.0L423.2,1411.0L421.1,1406.3L418.7,1403.5L415.6,1402.5L412.7,1403.3L409.9,1405.3L407.9,1408.7L406.0,1413.5L404.2,1413.0L400.9,1411.4L398.4,1411.7L395.9,1413.6L394.5,1416.7L392.0,1417.1L388.2,1416.2L384.7,1417.3L382.2,1419.0L381.5,1419.7L379.9,1422.5L372.9,1411.7L370.3,1408.5L369.6,1403.4L367.5,1400.4L366.5,1399.5L364.7,1398.7L363.3,1398.5L360.7,1399.5L359.7,1400.4L357.6,1403.4L356.3,1410.8L354.7,1413.5L352.3,1410.9L349.2,1408.5L346.0,1407.8L342.9,1406.5L340.4,1402.8L337.5,1398.0L334.9,1395.4L334.2,1394.9L330.8,1393.6L327.6,1394.2L323.8,1393.5L320.9,1394.4L320.1,1395.3L317.8,1399.0L314.3,1402.0L311.1,1404.1L308.4,1408.5L305.3,1410.4L302.8,1411.6L300.2,1411.6L297.6,1408.5L294.7,1407.0L293.4,1406.8L290.1,1407.8L286.9,1409.4L286.2,1409.8L285.7,1410.5Z"/>
</g>
<g opacity="0.8" fill="#4477AA" stroke="#4477AA" stroke-linejoin="round">
<polyline fill="none" stroke-width="12.5" stroke-linecap="square" points="237.0,848.0 237.5,645.9 239.6,638.9 243.5,623.0 246.9,594.9 248.6,558.0 251.9,540.4 254.2,503.5 259.5,493.0 262.6,524.6 264.3,549.2 269.6,544.0 272.3,593.2 275.6,647.6 277.8,651.2 288.3,1208.3 289.4,1232.2 296.1,1249.6 299.7,1217.1"/>
<path stroke="none" d="M296.3,1214.8L291.4,1249.4L291.4,1250.1L292.0,1251.4L294.8,1254.6L295.3,1255.0L296.4,1255.4L297.0,1255.4L298.2,1254.9L300.7,1253.0L302.3,1249.6L303.7,1237.7L305.2,1227.8L306.9,1224.4L308.1,1227.7L309.7,1242.4L309.9,1243.3L311.8,1247.1L312.6,1248.0L315.1,1249.0L316.5,1248.7L318.5,1247.7L319.4,1247.0L320.9,1243.8L321.9,1238.2L324.3,1234.0L327.0,1231.0L328.6,1227.9L328.9,1227.1L330.2,1217.1L331.3,1215.3L334.5,1212.2L336.4,1207.3L338.4,1204.6L339.7,1196.9L341.2,1190.6L342.9,1193.1L344.9,1194.6L346.6,1196.8L348.2,1201.6L348.7,1202.4L350.1,1204.1L351.2,1204.8L352.5,1205.2L356.3,1204.6L357.4,1208.0L359.5,1211.2L361.3,1217.2L362.7,1232.6L364.8,1236.4L365.5,1237.2L368.0,1238.1L369.4,1237.9L372.2,1236.4L374.1,1233.9L376.6,1232.6L378.7,1228.6L380.5,1222.5L382.0,1218.7L384.4,1222.4L387.5,1223.9L388.8,1223.9L392.0,1221.9L392.5,1221.0L395.1,1213.7L397.7,1209.7L400.3,1218.6L402.3,1227.8L404.2,1231.3L406.6,1232.8L408.0,1232.7L411.0,1230.7L413.0,1226.4L413.9,1223.7L417.4,1222.4L419.7,1219.2L420.9,1208.4L422.0,1197.0L423.2,1188.2L425.8,1186.1L428.2,1181.9L431.1,1171.5L434.3,1184.0L436.0,1188.2L437.8,1199.0L438.1,1199.9L440.3,1203.6L441.4,1204.2L443.2,1204.9L445.4,1207.5L448.1,1209.7L449.9,1213.8L452.3,1217.0L454.5,1218.5L455.8,1218.8L457.1,1218.5L458.9,1217.3L463.1,1211.0L464.2,1204.7L465.7,1214.6L467.3,1219.9L469.5,1228.9L470.4,1240.3L471.4,1249.2L474.5,1253.5L475.8,1254.1L478.1,1253.7L480.1,1258.1L483.0,1260.8L485.1,1262.0L486.7,1264.5L489.8,1266.0L491.2,1266.1L493.9,1264.9L494.6,1264.4L496.8,1260.4L497.0,1259.7L499.1,1245.4L501.0,1245.2L503.0,1246.6L505.2,1247.1L506.4,1246.8L508.0,1245.8L509.0,1244.7L510.2,1241.9L511.3,1233.9L514.4,1232.6L516.2,1230.9L516.9,1229.6L517.6,1226.3L521.7,1226.7L523.0,1226.1L524.8,1224.3L526.2,1219.6L527.2,1205.9L530.0,1203.4L532.0,1215.0L534.1,1218.8L535.9,1224.7L538.6,1229.4L540.3,1230.6L541.7,1230.9L543.0,1230.5L545.4,1228.8L547.4,1225.1L549.3,1222.4L551.9,1202.1L554.4,1205.2L556.3,1208.3L557.7,1212.2L560.2,1214.8L562.1,1215.5L563.3,1215.4L567.8,1212.9L569.2,1214.9L571.7,1217.9L574.9,1219.3L578.9,1220.6L580.3,1220.2L583.1,1218.5L586.1,1212.9L589.0,1213.6L590.2,1213.6L593.9,1211.5L595.6,1208.8L596.0,1208.0L596.6,1204.6L598.4,1202.7L599.3,1214.8L600.1,1233.5L600.3,1234.3L603.7,1243.1L606.2,1246.3L607.7,1247.1L608.9,1247.3L610.0,1246.9L611.9,1245.8L612.8,1244.8L614.5,1241.3L615.6,1235.9L617.0,1232.0L621.1,1233.1L622.3,1232.9L625.1,1231.3L627.1,1227.6L629.1,1223.1L630.9,1226.2L632.1,1228.6L633.5,1238.7L635.5,1243.4L638.0,1245.0L639.3,1245.4L640.5,1245.0L643.0,1243.4L645.3,1238.7L646.3,1232.8L647.6,1228.6L648.9,1219.3L651.4,1216.7L654.3,1218.8L656.8,1219.4L658.0,1219.2L660.2,1217.9L662.0,1215.2L662.3,1214.4L663.5,1208.3L664.5,1200.8L666.0,1212.1L667.9,1219.7L669.8,1224.1L671.8,1226.9L672.9,1232.6L675.0,1235.8L677.5,1236.8L678.7,1236.7L681.9,1234.5L683.7,1231.7L686.5,1221.0L687.7,1210.3L691.9,1205.9L692.9,1221.4L694.7,1230.1L695.7,1236.0L696.9,1238.4L697.9,1239.4L700.9,1240.9L703.3,1241.6L704.6,1241.7L707.5,1240.3L710.5,1241.3L712.6,1241.6L714.6,1246.0L717.0,1247.9L718.1,1248.4L719.3,1248.3L722.1,1246.6L724.6,1242.4L726.6,1240.3L728.9,1243.1L729.6,1243.7L731.8,1245.0L732.4,1245.1L733.6,1244.8L736.1,1243.4L738.3,1239.7L738.8,1235.9L743.2,1236.6L746.1,1235.3L746.8,1234.4L748.5,1230.9L749.7,1227.4L751.9,1224.4L752.8,1230.2L754.5,1237.7L757.3,1240.8L759.3,1241.5L761.7,1241.3L761.7,1241.5L763.0,1246.8L764.9,1252.6L766.2,1265.9L767.4,1273.4L769.3,1280.7L769.6,1281.5L772.0,1284.9L774.0,1285.8L775.1,1285.9L776.2,1285.6L778.2,1284.2L780.3,1280.2L783.0,1262.1L784.1,1259.0L785.3,1239.1L787.2,1231.2L788.5,1221.2L790.4,1193.3L790.5,1193.0L792.2,1191.7L792.4,1191.7L794.3,1194.6L795.8,1199.6L798.1,1237.7L799.5,1250.8L801.2,1255.4L803.2,1259.0L805.0,1270.6L806.8,1274.9L807.3,1275.7L809.3,1277.6L809.9,1277.8L811.2,1277.8L813.3,1276.6L815.6,1272.2L816.6,1259.4L819.1,1234.1L820.2,1230.8L822.2,1233.2L824.7,1234.6L826.3,1237.4L826.9,1238.0L829.6,1240.0L830.8,1240.2L831.5,1240.1L833.9,1239.1L834.7,1238.2L836.2,1234.9L837.4,1230.1L838.7,1226.3L840.0,1226.9L841.2,1234.8L841.5,1235.6L843.7,1239.3L846.6,1241.7L848.4,1242.7L851.5,1243.7L852.8,1243.4L854.5,1242.6L855.7,1241.5L857.9,1236.8L859.1,1230.1L860.7,1222.6L862.0,1211.1L863.6,1205.6L864.2,1197.6L866.2,1194.1L868.1,1188.7L871.8,1189.3L872.8,1194.4L873.8,1207.1L878.0,1213.8L881.2,1216.7L882.4,1225.9L885.6,1233.3L886.4,1234.3L888.9,1236.2L890.1,1236.7L891.5,1236.5L893.4,1235.6L894.3,1234.9L896.4,1230.9L898.4,1228.4L899.8,1225.8L902.3,1223.1L903.8,1219.6L904.4,1216.1L906.8,1217.1L907.5,1217.1L909.3,1216.4L910.2,1215.7L911.9,1212.5L913.5,1206.0L915.7,1201.6L916.9,1193.1L920.0,1166.4L922.3,1171.6L923.5,1181.7L924.8,1195.2L926.2,1201.6L928.6,1206.0L930.1,1219.8L931.7,1228.3L932.1,1229.3L934.7,1232.9L937.6,1235.3L939.3,1236.3L940.5,1236.4L943.2,1235.1L945.4,1231.5L946.2,1229.5L948.1,1229.2L949.2,1228.8L951.3,1226.5L953.4,1222.6L955.4,1217.5L955.6,1217.3L958.6,1216.7L960.4,1221.3L962.0,1224.3L963.1,1225.3L964.5,1226.0L966.0,1226.2L968.7,1225.1L969.8,1224.1L972.3,1219.5L973.9,1212.3L975.4,1207.2L976.9,1225.6L978.9,1229.2L980.7,1231.6L982.3,1235.2L986.0,1238.1L987.4,1238.2L990.4,1236.7L992.4,1233.1L992.7,1232.2L993.9,1222.5L994.7,1218.0L996.0,1222.6L996.8,1232.2L997.1,1233.1L998.8,1236.4L1001.1,1238.4L1004.5,1254.2L1006.2,1259.8L1006.8,1260.8L1007.2,1261.2L1009.3,1262.5L1010.5,1262.9L1011.8,1262.6L1013.8,1261.4L1014.4,1260.5L1015.8,1257.3L1017.3,1242.8L1019.2,1230.2L1020.4,1225.8L1021.5,1223.8L1022.9,1227.8L1025.4,1231.2L1029.1,1234.1L1030.9,1234.8L1032.3,1234.9L1035.0,1233.6L1036.9,1230.4L1038.7,1222.3L1039.6,1221.2L1042.2,1222.4L1042.4,1222.6L1044.0,1228.8L1045.4,1238.0L1047.4,1243.2L1050.0,1247.3L1051.2,1248.3L1053.0,1248.9L1055.7,1248.6L1058.7,1249.1L1061.1,1248.3L1061.8,1247.9L1064.2,1244.1L1064.9,1238.4L1067.6,1238.3L1070.2,1236.9L1071.2,1235.8L1072.8,1232.4L1073.1,1231.6L1075.0,1212.4L1077.0,1208.8L1077.3,1207.9L1078.1,1202.2L1079.8,1197.2L1082.7,1199.7L1084.9,1222.3L1086.3,1229.2L1088.8,1233.2L1091.5,1234.8L1093.4,1235.2L1095.1,1239.0L1097.2,1240.6L1098.6,1241.1L1099.9,1240.8L1101.4,1240.0L1102.4,1239.0L1104.1,1235.5L1105.3,1227.6L1107.8,1225.9L1108.4,1224.9L1109.0,1217.9L1110.0,1213.4L1112.1,1197.0L1113.4,1191.3L1114.3,1196.9L1116.0,1199.4L1119.2,1201.3L1122.7,1201.6L1126.1,1200.8L1127.0,1201.9L1129.7,1219.9L1131.9,1223.0L1134.4,1224.2L1135.8,1224.4L1138.8,1223.0L1141.1,1219.3L1143.2,1219.5L1144.0,1219.5L1144.7,1219.2L1146.9,1217.9L1148.8,1215.3L1149.2,1214.2L1151.0,1200.8L1152.5,1198.3L1154.9,1195.6L1156.7,1193.1L1158.0,1186.8L1159.4,1194.6L1160.9,1198.7L1162.5,1202.2L1163.8,1207.1L1165.0,1220.1L1165.3,1221.0L1167.0,1224.3L1169.7,1225.9L1170.8,1226.2L1172.0,1226.0L1174.5,1224.6L1176.4,1221.4L1178.2,1215.9L1180.9,1212.3L1183.8,1209.6L1185.2,1206.9L1186.7,1208.6L1187.4,1217.4L1188.7,1226.9L1190.6,1229.8L1193.8,1231.2L1195.1,1231.0L1200.7,1229.0L1203.0,1226.4L1205.0,1223.4L1206.8,1217.5L1208.1,1209.8L1209.4,1206.0L1210.3,1202.1L1212.3,1205.4L1214.5,1208.1L1217.0,1209.7L1219.2,1210.3L1220.1,1219.6L1221.5,1223.5L1222.1,1224.5L1222.6,1224.8L1224.6,1225.9L1226.0,1226.3L1228.6,1225.4L1229.6,1224.6L1229.9,1224.1L1231.7,1220.1L1232.4,1214.8L1233.3,1210.3L1235.4,1209.0L1238.3,1204.8L1240.0,1200.9L1241.3,1196.4L1242.6,1202.0L1244.1,1207.2L1245.2,1212.9L1249.3,1218.8L1252.0,1220.3L1253.1,1220.6L1254.2,1220.4L1255.8,1219.6L1256.7,1218.9L1258.7,1215.0L1259.7,1211.7L1261.4,1208.0L1262.3,1201.4L1265.1,1202.0L1268.0,1203.1L1269.4,1202.8L1271.0,1202.1L1271.9,1201.3L1275.8,1195.7L1278.3,1214.9L1279.2,1233.7L1280.5,1239.1L1281.8,1251.8L1282.6,1270.5L1284.1,1274.9L1284.7,1275.8L1286.9,1277.9L1289.5,1278.7L1290.6,1278.5L1292.8,1277.5L1294.9,1274.5L1295.2,1273.6L1296.7,1265.7L1298.0,1246.7L1299.6,1233.9L1300.9,1215.0L1301.8,1212.3L1303.7,1210.2L1304.2,1209.1L1306.0,1201.4L1307.9,1199.5L1308.4,1198.8L1308.7,1198.0L1311.1,1177.9L1312.4,1195.7L1313.3,1212.0L1315.3,1221.2L1316.6,1231.4L1318.3,1242.4L1318.6,1243.2L1320.5,1246.6L1323.5,1248.1L1324.8,1248.3L1328.6,1246.7L1331.1,1244.5L1331.7,1243.6L1333.2,1240.0L1334.1,1235.3L1336.0,1238.7L1339.3,1240.7L1340.4,1241.0L1341.6,1240.8L1343.8,1239.6L1345.9,1236.2L1348.5,1235.3L1351.0,1233.9L1352.9,1235.4L1354.7,1236.1L1355.4,1236.2L1356.7,1236.0L1359.2,1234.8L1361.5,1232.9L1364.3,1232.2L1365.6,1231.4L1367.3,1229.4L1369.2,1226.6L1371.7,1219.3L1373.8,1220.1L1376.1,1220.6L1377.9,1225.2L1378.4,1226.0L1380.2,1228.0L1382.1,1229.5L1383.2,1235.2L1385.8,1238.3L1390.6,1239.9L1394.6,1238.9L1397.6,1235.6L1398.4,1233.9L1398.5,1232.7L1399.6,1234.1L1402.1,1235.2L1403.4,1243.9L1404.2,1246.4L1406.2,1249.7L1408.2,1252.1L1410.8,1253.9L1412.0,1254.3L1413.1,1254.1L1415.7,1253.0L1419.1,1252.4L1420.9,1258.3L1421.9,1264.6L1423.0,1276.3L1424.5,1280.0L1427.4,1282.0L1428.0,1282.2L1429.1,1282.3L1431.5,1281.4L1432.5,1280.8L1435.0,1276.4L1437.0,1269.5L1438.5,1262.1L1439.7,1251.8L1440.8,1245.4L1442.0,1240.4L1442.9,1237.8L1444.1,1239.6L1445.4,1242.7L1446.9,1245.3L1447.7,1246.1L1448.2,1246.3L1450.7,1247.1L1451.8,1247.0L1453.6,1246.4L1454.5,1245.7L1456.1,1243.2L1457.4,1238.8L1457.9,1227.6L1458.2,1223.3L1459.9,1219.2L1461.1,1215.7L1462.1,1207.2L1464.5,1220.1L1464.9,1220.9L1467.2,1224.4L1468.1,1232.7L1469.3,1241.3L1470.7,1245.2L1471.3,1246.2L1474.5,1248.0L1475.8,1248.4L1478.4,1247.6L1478.9,1247.4L1479.8,1246.5L1480.9,1244.6L1481.3,1243.6L1483.4,1230.1L1486.3,1229.5L1488.6,1231.6L1491.5,1232.9L1492.6,1232.9L1495.8,1231.3L1497.6,1229.0L1498.7,1227.0L1502.3,1232.6L1505.0,1234.3L1505.5,1234.5L1506.7,1234.6L1509.2,1233.6L1510.3,1232.6L1511.7,1230.4L1512.7,1227.3L1515.6,1226.9L1517.5,1225.7L1520.1,1230.8L1520.9,1231.8L1522.7,1232.9L1525.3,1233.3L1527.8,1234.2L1530.0,1234.6L1531.8,1250.4L1533.6,1258.3L1535.0,1262.3L1536.7,1264.5L1537.6,1269.1L1538.0,1270.1L1539.4,1272.1L1540.2,1272.9L1542.1,1273.4L1543.4,1273.5L1546.2,1271.9L1547.2,1270.9L1549.3,1266.7L1550.4,1260.9L1552.2,1235.2L1553.5,1225.6L1554.5,1211.1L1557.3,1233.5L1557.5,1234.3L1558.5,1236.2L1560.4,1238.6L1561.4,1241.8L1563.5,1245.0L1565.0,1249.2L1566.8,1251.2L1568.0,1252.0L1571.1,1252.7L1574.2,1252.0L1574.9,1251.7L1575.5,1251.1L1577.2,1249.0L1577.6,1248.2L1578.5,1245.4L1580.4,1243.2L1580.8,1242.4L1583.9,1232.5L1585.2,1226.2L1586.2,1217.4L1587.4,1220.9L1588.9,1223.4L1589.9,1224.0L1591.2,1224.4L1592.5,1224.5L1595.5,1223.0L1597.7,1219.6L1599.4,1212.3L1600.5,1205.9L1602.5,1209.2L1604.5,1211.7L1605.5,1212.5L1607.7,1213.4L1609.1,1213.5L1611.8,1212.3L1612.5,1211.9L1613.0,1211.3L1614.6,1208.2L1616.4,1202.1L1618.3,1193.2L1619.6,1185.5L1620.6,1181.7L1621.5,1188.1L1622.5,1193.1L1623.8,1194.8L1626.0,1196.5L1627.2,1207.1L1628.5,1214.5L1629.6,1217.5L1630.8,1229.7L1631.0,1230.5L1632.1,1232.7L1632.9,1233.7L1634.0,1234.3L1634.6,1234.4L1636.8,1234.0L1638.9,1237.3L1640.9,1239.3L1642.1,1239.9L1643.5,1240.0L1646.3,1238.3L1648.1,1235.0L1648.3,1234.1L1648.9,1228.4L1650.9,1223.3L1653.0,1202.1L1654.3,1194.5L1655.3,1193.2L1657.9,1214.8L1659.1,1227.6L1660.4,1236.8L1661.7,1240.5L1663.0,1253.2L1664.4,1259.2L1665.8,1262.4L1666.5,1263.4L1668.7,1264.4L1669.9,1264.4L1670.5,1264.2L1671.7,1263.4L1672.6,1262.7L1674.4,1258.3L1675.7,1253.2L1676.6,1251.7L1676.8,1251.1L1678.0,1240.3L1680.2,1229.9L1681.4,1213.8L1682.8,1210.6L1684.0,1202.2L1684.9,1181.7L1687.4,1185.2L1687.9,1185.5L1688.9,1185.7L1690.7,1187.5L1692.5,1188.0L1695.1,1194.6L1696.8,1207.9L1697.1,1208.9L1698.5,1211.1L1699.4,1221.2L1701.0,1246.5L1702.2,1251.4L1703.8,1254.2L1704.6,1255.0L1706.4,1255.7L1708.7,1255.9L1709.9,1259.1L1711.5,1261.6L1712.6,1262.5L1714.1,1263.1L1715.4,1263.3L1717.9,1262.3L1718.7,1261.5L1720.5,1258.1L1722.3,1237.8L1723.1,1232.7L1723.6,1238.3L1724.6,1243.7L1724.9,1244.5L1726.1,1246.6L1727.3,1247.6L1730.0,1248.7L1731.4,1248.5L1733.7,1247.2L1735.8,1243.7L1737.2,1239.7L1739.2,1239.2L1740.8,1238.5L1743.1,1237.1L1745.3,1233.9L1746.1,1230.1L1748.5,1228.8L1750.4,1226.9L1753.3,1219.4L1755.3,1215.9L1758.0,1208.6L1760.3,1205.8L1761.6,1202.7L1763.9,1214.9L1764.8,1225.0L1765.7,1240.2L1767.0,1250.6L1768.2,1257.7L1769.9,1261.1L1771.0,1262.1L1773.4,1263.2L1774.8,1263.0L1776.4,1262.3L1777.1,1261.9L1777.6,1261.3L1779.6,1257.7L1781.4,1252.5L1782.8,1249.7L1783.1,1248.7L1784.0,1238.9L1787.7,1223.9L1789.8,1220.2L1790.9,1216.2L1792.4,1213.7L1794.2,1212.3L1796.9,1217.4L1799.1,1219.8L1800.9,1221.2L1802.2,1225.0L1804.6,1227.5L1805.6,1228.0L1806.9,1228.1L1809.4,1227.2L1810.5,1226.3L1812.1,1224.2L1812.5,1223.2L1813.7,1217.2L1814.6,1208.4L1815.2,1204.0L1819.3,1207.3L1821.0,1213.6L1823.4,1229.7L1824.8,1232.7L1825.8,1233.7L1827.7,1234.7L1828.8,1234.8L1830.5,1234.6L1832.5,1235.6L1833.7,1237.8L1835.5,1242.1L1836.7,1249.2L1838.1,1251.6L1839.8,1253.9L1841.3,1257.2L1842.8,1258.9L1844.0,1259.6L1845.8,1259.9L1848.2,1259.1L1849.1,1258.5L1851.0,1255.2L1852.4,1250.6L1853.8,1247.8L1856.2,1240.6L1858.6,1220.0L1859.6,1205.4L1861.7,1204.0L1863.6,1202.0L1864.9,1197.1L1865.6,1190.6L1866.9,1189.3L1868.3,1192.7L1869.7,1194.8L1870.7,1195.7L1872.6,1196.5L1873.8,1196.4L1875.0,1195.9L1875.7,1195.6L1876.3,1195.0L1877.9,1192.5L1879.0,1186.9L1880.0,1184.2L1880.9,1189.3L1882.5,1201.6L1884.1,1205.0L1885.0,1209.4L1886.4,1212.5L1887.3,1221.2L1889.0,1224.1L1891.8,1227.0L1894.0,1230.1L1894.9,1235.2L1895.8,1241.8L1896.0,1242.6L1897.4,1245.2L1897.8,1245.7L1898.7,1246.4L1900.4,1247.0L1901.6,1247.1L1904.4,1245.9L1906.7,1242.2L1907.7,1230.3L1909.5,1225.8L1910.6,1222.0L1911.5,1215.0L1912.8,1211.8L1913.7,1204.6L1916.9,1207.7L1918.2,1209.7L1920.0,1232.2L1921.4,1235.7L1922.4,1236.9L1924.4,1238.1L1925.0,1238.4L1926.1,1238.4L1929.3,1237.0L1931.2,1233.8L1931.6,1232.7L1932.3,1221.2L1933.2,1216.0L1935.1,1209.7L1939.7,1204.3L1940.1,1203.5L1941.7,1198.3L1944.2,1185.7L1946.0,1182.7L1946.4,1181.8L1947.2,1176.4L1947.8,1169.1L1949.7,1166.3L1951.0,1157.5L1952.3,1163.7L1953.1,1169.2L1954.5,1172.0L1956.2,1173.5L1958.1,1199.5L1959.0,1209.3L1960.3,1212.3L1961.1,1213.2L1963.1,1214.8L1964.9,1218.9L1967.1,1221.7L1969.5,1222.6L1973.1,1222.2L1975.8,1228.5L1977.8,1231.4L1979.5,1242.9L1979.9,1244.0L1981.8,1246.4L1985.2,1247.7L1986.5,1247.6L1989.1,1246.4L1991.8,1242.6L1993.2,1239.2L1994.2,1235.3L1995.3,1239.1L1996.5,1246.3L1998.2,1250.2L1999.1,1250.9L2001.3,1252.0L2002.5,1252.3L2007.2,1251.2L2008.1,1255.8L2009.8,1260.8L2011.0,1268.1L2012.4,1271.7L2013.6,1277.1L2014.9,1280.2L2015.2,1280.8L2016.2,1281.5L2017.7,1282.2L2019.1,1282.4L2021.6,1281.4L2022.7,1280.5L2025.2,1276.3L2027.6,1267.9L2029.1,1265.0L2029.3,1264.0L2030.0,1253.0L2031.0,1240.5L2032.6,1238.1L2034.1,1235.0L2035.7,1229.0L2036.6,1222.7L2037.6,1220.6L2039.4,1221.8L2041.1,1223.2L2043.7,1224.4L2044.9,1224.5L2047.1,1223.8L2048.2,1222.8L2049.9,1220.2L2051.6,1214.3L2052.6,1212.3L2053.1,1218.1L2053.4,1219.1L2055.3,1222.1L2057.7,1223.5L2058.3,1223.7L2059.7,1223.6L2064.3,1221.8L2065.9,1221.1L2068.0,1219.3L2069.5,1221.9L2071.0,1225.2L2071.8,1237.7L2072.7,1246.5L2074.0,1252.4L2076.0,1254.8L2077.2,1255.6L2079.4,1256.1L2081.4,1255.6L2082.4,1255.0L2084.3,1252.2L2084.6,1251.3L2086.7,1240.5L2089.2,1236.0L2090.6,1232.5L2093.2,1228.6L2094.7,1224.5L2095.7,1220.6L2097.5,1219.6L2098.6,1218.6L2100.2,1215.8L2101.1,1212.9L2105.2,1213.5L2106.4,1220.7L2106.7,1221.6L2108.5,1224.3L2112.3,1226.0L2113.6,1225.9L2116.0,1224.9L2119.1,1220.9L2120.5,1217.0L2121.2,1211.0L2123.0,1209.7L2124.7,1206.9L2125.1,1206.0L2125.9,1201.4L2127.9,1200.8L2129.4,1201.5L2130.1,1201.5L2131.8,1201.0L2132.5,1200.7L2133.1,1200.1L2134.5,1198.0L2134.9,1197.1L2135.8,1192.9L2136.5,1186.1L2138.9,1184.5L2140.8,1182.4L2142.4,1179.8L2143.9,1187.1L2145.2,1189.5L2147.1,1191.8L2148.3,1199.5L2149.9,1207.8L2151.6,1210.1L2153.4,1211.6L2154.8,1216.3L2157.7,1221.7L2159.5,1230.7L2161.4,1233.6L2164.2,1234.8L2165.4,1234.6L2167.0,1234.1L2169.0,1232.7L2170.0,1238.8L2171.3,1242.4L2173.6,1263.6L2175.0,1267.4L2176.9,1270.3L2178.1,1276.8L2178.4,1277.7L2180.5,1281.0L2183.0,1282.2L2184.4,1282.4L2187.4,1281.0L2190.0,1277.3L2191.7,1264.5L2194.0,1262.4L2198.3,1255.6L2200.8,1254.3L2202.9,1251.4L2204.5,1246.6L2205.9,1240.5L2207.0,1230.1L2209.4,1228.5L2210.9,1226.8L2211.5,1225.6L2213.6,1214.6L2213.9,1199.5L2216.1,1196.6L2218.8,1190.2L2220.3,1183.6L2223.2,1184.1L2225.7,1183.1L2227.6,1180.1L2228.0,1179.2L2228.7,1175.3L2230.8,1175.3L2231.7,1186.7L2233.0,1195.7L2234.3,1201.9L2235.6,1206.5L2237.8,1217.2L2238.9,1220.7L2241.4,1246.6L2243.0,1257.0L2244.4,1262.4L2246.2,1266.1L2246.6,1266.7L2247.3,1267.2L2249.0,1268.1L2250.3,1268.4L2253.1,1267.3L2255.6,1264.6L2257.8,1262.7L2259.5,1260.4L2259.9,1259.6L2261.0,1255.8L2261.6,1251.6L2263.4,1247.6L2264.4,1242.8L2265.3,1236.6L2266.6,1232.3L2267.5,1215.5L2269.4,1214.6L2271.1,1213.2L2272.9,1210.6L2274.4,1206.4L2276.2,1205.7L2277.8,1205.3L2278.8,1209.5L2280.1,1212.7L2280.7,1221.2L2281.9,1232.7L2283.2,1240.7L2284.8,1245.8L2286.5,1249.3L2288.4,1252.3L2291.8,1254.1L2293.2,1253.9L2295.1,1253.2L2296.1,1252.5L2297.8,1249.0L2298.1,1248.2L2299.8,1233.4L2301.9,1229.7L2303.1,1225.2L2304.0,1214.9L2304.6,1212.9L2306.8,1223.9L2307.2,1224.8L2308.6,1226.8L2309.5,1227.6L2310.0,1227.8L2312.9,1228.5L2316.7,1227.4L2319.3,1224.3L2320.6,1219.9L2322.4,1217.7L2322.9,1216.9L2323.8,1213.9L2324.4,1208.4L2326.0,1206.3L2326.4,1205.4L2327.6,1200.7L2328.6,1194.5L2329.9,1191.3L2330.4,1200.7L2331.4,1209.4L2333.0,1213.5L2335.0,1215.4L2335.5,1222.5L2336.2,1228.3L2336.5,1229.3L2338.4,1232.3L2340.8,1234.4L2342.3,1235.2L2343.8,1238.7L2348.8,1244.3L2349.9,1245.0L2351.4,1245.4L2352.8,1245.4L2355.3,1244.6L2359.4,1242.1L2361.2,1239.3L2362.6,1234.1L2363.3,1227.6L2365.0,1230.2L2366.9,1232.6L2369.6,1233.7L2370.9,1233.6L2373.0,1232.7L2373.7,1231.9L2375.2,1229.5L2375.5,1228.6L2377.1,1217.5L2378.4,1213.2L2379.3,1200.1L2381.2,1199.3L2382.3,1198.5L2383.0,1197.8L2384.4,1195.1L2386.3,1188.7L2388.2,1203.3L2389.1,1208.5L2390.3,1231.1L2392.0,1236.3L2393.3,1239.1L2394.5,1243.1L2396.3,1246.0L2396.8,1246.6L2398.7,1247.4L2400.0,1247.5L2402.1,1246.6L2403.0,1246.0L2404.1,1244.8L2406.0,1245.7L2406.7,1250.3L2407.6,1254.0L2409.5,1257.3L2410.9,1262.3L2412.9,1265.5L2414.9,1266.6L2416.2,1266.9L2419.1,1265.7L2423.3,1259.8L2423.6,1259.0L2424.5,1255.1L2425.2,1248.6L2427.6,1248.1L2429.4,1247.3L2431.1,1249.1L2433.2,1250.7L2434.3,1251.0L2435.7,1250.8L2437.6,1249.5L2438.2,1248.9L2440.0,1246.2L2441.7,1242.3L2443.1,1238.4L2445.2,1238.7L2447.0,1238.2L2447.9,1237.7L2450.0,1235.8L2451.4,1232.3L2453.3,1211.0L2455.7,1209.1L2457.4,1206.5L2458.3,1200.8L2459.9,1206.8L2462.2,1210.9L2464.2,1212.2L2465.4,1212.5L2466.6,1212.2L2467.9,1211.5L2468.9,1210.7L2470.5,1208.2L2470.8,1207.3L2471.7,1201.9L2472.7,1189.4L2473.6,1185.5L2474.9,1191.7L2476.2,1195.8L2477.4,1211.9L2478.8,1215.6L2479.6,1223.9L2479.9,1224.8L2481.4,1227.6L2482.2,1228.5L2483.5,1229.3L2484.6,1229.7L2487.0,1229.5L2488.5,1234.2L2490.2,1236.9L2491.2,1237.8L2492.6,1238.5L2494.1,1238.7L2496.3,1237.8L2496.9,1237.4L2497.4,1236.8L2498.9,1234.1L2499.2,1233.1L2500.1,1224.3L2501.8,1218.5L2504.6,1212.9L2505.5,1220.9L2506.8,1225.1L2509.4,1246.6L2510.6,1254.4L2510.9,1255.4L2513.3,1258.7L2515.3,1259.7L2516.7,1259.8L2519.5,1258.3L2521.5,1254.7L2521.8,1253.9L2523.4,1241.6L2525.9,1241.7L2528.8,1240.2L2530.9,1236.8L2532.0,1232.7L2533.4,1233.0L2534.5,1233.1L2536.4,1232.3L2537.4,1231.4L2538.8,1229.2L2539.2,1228.4L2540.6,1221.0L2541.6,1208.3L2542.5,1204.2L2543.8,1202.1L2545.0,1206.3L2546.8,1210.4L2548.0,1215.5L2549.8,1221.3L2552.3,1235.8L2553.6,1246.3L2555.0,1249.9L2555.8,1250.9L2557.9,1252.4L2561.1,1253.1L2563.6,1254.2L2564.9,1254.3L2567.3,1253.4L2568.0,1253.0L2568.5,1252.3L2570.0,1249.7L2570.3,1248.7L2571.2,1240.3L2574.5,1214.9L2575.9,1218.2L2576.3,1219.0L2578.0,1220.8L2578.7,1221.4L2581.0,1222.5L2582.1,1222.8L2583.3,1222.4L2585.0,1221.5L2585.9,1220.6L2587.5,1217.8L2587.8,1216.9L2588.6,1212.0L2590.1,1209.6L2592.0,1207.1L2595.1,1202.0L2595.2,1165.4L2594.8,1164.1L2594.4,1163.6L2593.3,1163.0L2589.6,1162.9L2588.4,1163.2L2587.9,1163.5L2587.5,1164.0L2587.1,1165.1L2586.2,1174.0L2584.2,1176.6L2582.4,1179.7L2581.5,1176.9L2579.6,1174.0L2578.5,1173.1L2576.7,1172.3L2575.3,1172.2L2573.2,1172.7L2572.3,1173.4L2570.5,1175.6L2568.7,1180.3L2566.4,1184.6L2564.8,1191.8L2563.3,1196.7L2562.2,1210.9L2561.3,1219.2L2558.5,1208.5L2557.5,1202.4L2555.9,1198.6L2554.9,1188.1L2553.7,1179.5L2553.4,1178.7L2551.6,1175.6L2550.5,1175.0L2548.0,1174.2L2546.6,1174.7L2544.2,1176.3L2540.3,1181.0L2537.4,1181.1L2535.5,1181.9L2534.5,1182.9L2533.2,1185.0L2532.9,1186.0L2531.0,1200.1L2528.2,1200.9L2526.1,1201.9L2523.8,1203.6L2523.1,1204.5L2522.0,1206.7L2521.7,1207.6L2520.8,1217.3L2518.7,1218.9L2517.0,1218.0L2515.3,1201.4L2513.8,1198.9L2511.9,1197.6L2510.3,1186.8L2508.9,1180.4L2506.4,1177.2L2503.9,1176.2L2502.7,1176.1L2502.1,1176.2L2499.6,1177.3L2497.6,1180.4L2495.3,1197.1L2494.1,1200.7L2492.4,1204.7L2490.9,1209.0L2489.4,1208.4L2487.7,1192.0L2486.4,1185.4L2485.5,1176.6L2484.5,1168.9L2483.5,1158.7L2482.9,1149.8L2481.1,1146.1L2480.3,1145.2L2477.5,1144.1L2475.4,1144.5L2474.6,1144.8L2474.0,1145.3L2470.9,1148.7L2470.3,1149.7L2468.9,1153.8L2467.6,1163.7L2465.5,1156.5L2462.7,1152.4L2459.9,1151.2L2458.7,1151.4L2457.2,1152.0L2456.5,1152.4L2456.0,1153.0L2454.4,1155.8L2454.0,1156.5L2452.8,1162.6L2450.7,1182.9L2449.4,1184.9L2447.8,1188.0L2447.2,1194.4L2445.9,1194.9L2443.7,1196.3L2441.8,1199.5L2440.5,1219.3L2438.7,1220.4L2436.7,1221.1L2435.2,1218.4L2433.2,1215.9L2430.2,1214.8L2429.0,1215.0L2427.2,1215.8L2426.0,1216.7L2424.6,1219.3L2423.9,1225.4L2422.7,1228.0L2420.6,1228.9L2418.2,1230.2L2416.2,1232.6L2412.6,1229.6L2410.8,1226.4L2410.3,1220.2L2408.5,1215.5L2406.4,1213.6L2405.5,1213.1L2403.5,1212.6L2401.0,1212.9L2398.4,1189.3L2397.1,1164.9L2395.7,1157.1L2394.2,1153.5L2393.4,1152.5L2391.3,1151.0L2388.8,1149.5L2385.9,1149.1L2382.9,1149.4L2382.0,1149.7L2380.4,1150.6L2379.6,1151.3L2378.2,1154.5L2378.0,1155.3L2377.4,1162.9L2375.8,1166.8L2374.1,1183.5L2371.7,1186.4L2369.5,1188.2L2368.8,1189.2L2367.7,1192.2L2366.9,1200.7L2366.1,1196.3L2364.0,1193.4L2363.0,1192.6L2361.1,1191.8L2359.8,1191.9L2358.2,1192.5L2356.6,1194.1L2356.1,1194.8L2354.6,1198.6L2353.4,1208.5L2352.5,1218.4L2350.8,1221.8L2347.8,1218.6L2347.0,1210.6L2345.8,1206.1L2344.3,1202.9L2342.3,1200.0L2340.4,1179.1L2339.4,1170.0L2339.1,1169.1L2337.8,1166.7L2336.3,1165.0L2335.3,1159.3L2334.9,1158.2L2332.9,1155.6L2330.9,1154.6L2329.6,1154.5L2327.6,1155.2L2326.6,1156.0L2324.7,1158.8L2323.8,1161.9L2321.6,1163.5L2320.3,1165.3L2319.8,1166.2L2318.7,1171.0L2318.0,1176.6L2317.4,1186.7L2316.1,1193.7L2315.1,1191.6L2314.3,1185.9L2314.0,1185.1L2312.5,1182.3L2310.7,1180.8L2309.5,1175.2L2308.5,1169.3L2308.3,1168.5L2306.6,1165.5L2305.5,1164.5L2303.8,1163.7L2302.4,1163.5L2299.6,1164.7L2299.0,1165.1L2298.5,1165.8L2296.9,1169.2L2294.7,1180.2L2293.4,1202.0L2292.5,1212.2L2291.2,1203.2L2289.9,1198.2L2288.0,1195.4L2287.0,1191.8L2286.1,1185.2L2284.8,1181.7L2282.6,1179.6L2280.4,1178.4L2278.9,1176.8L2277.9,1176.1L2275.6,1175.4L2272.8,1175.9L2270.3,1177.8L2269.3,1179.6L2268.4,1181.8L2266.5,1184.4L2263.7,1185.4L2261.5,1186.8L2259.5,1190.2L2259.2,1191.0L2257.7,1201.2L2256.0,1204.6L2255.1,1217.4L2253.4,1230.1L2251.9,1237.7L2249.6,1215.0L2247.4,1204.7L2245.8,1198.2L2244.5,1190.6L2243.6,1182.9L2242.7,1170.3L2241.4,1163.7L2240.2,1154.7L2239.9,1153.8L2237.8,1150.5L2235.6,1149.5L2234.4,1149.3L2231.3,1150.4L2228.7,1153.0L2226.5,1154.1L2224.1,1154.8L2221.9,1155.8L2220.9,1156.7L2220.0,1158.0L2218.1,1158.1L2216.2,1159.0L2215.2,1159.9L2213.9,1162.0L2213.6,1163.1L2213.0,1168.9L2211.6,1170.9L2210.3,1173.6L2210.0,1174.4L2209.1,1182.3L2205.4,1184.5L2203.5,1188.0L2202.7,1202.2L2201.5,1205.9L2199.0,1207.2L2197.2,1210.6L2197.0,1211.4L2195.7,1224.3L2191.9,1226.2L2190.9,1227.1L2189.2,1230.1L2188.3,1235.8L2185.8,1236.0L2182.4,1237.1L2180.7,1227.5L2179.1,1207.2L2176.6,1203.4L2173.4,1202.2L2171.5,1202.5L2170.4,1203.1L2168.5,1204.9L2166.4,1208.1L2165.0,1206.0L2164.0,1200.0L2163.6,1199.1L2161.9,1196.3L2160.0,1194.9L2159.0,1189.2L2158.2,1179.6L2157.9,1178.6L2156.4,1175.9L2154.7,1174.6L2153.9,1171.4L2153.0,1163.8L2151.3,1161.2L2150.1,1158.7L2149.5,1149.1L2147.7,1146.0L2147.2,1145.4L2144.9,1144.3L2144.1,1144.1L2143.3,1144.2L2141.0,1145.0L2138.8,1147.6L2136.0,1154.4L2135.8,1155.3L2135.5,1162.7L2134.4,1165.2L2132.7,1167.6L2132.0,1172.7L2129.7,1173.7L2125.7,1172.3L2124.2,1172.2L2122.5,1172.8L2120.6,1174.3L2120.0,1175.0L2118.5,1178.2L2117.3,1184.2L2114.8,1194.4L2113.1,1195.0L2111.7,1189.6L2109.7,1186.2L2109.2,1185.6L2107.1,1184.6L2105.9,1184.4L2103.0,1185.5L2100.8,1188.1L2100.1,1193.4L2098.6,1194.3L2094.7,1198.0L2092.6,1200.3L2090.6,1203.2L2088.2,1205.6L2086.6,1208.8L2085.5,1214.7L2084.2,1217.8L2082.2,1219.6L2081.0,1218.6L2079.4,1214.7L2077.8,1208.4L2076.2,1200.9L2074.8,1196.9L2073.5,1189.7L2071.7,1185.5L2068.8,1183.0L2068.0,1182.8L2065.4,1182.8L2063.3,1183.8L2062.4,1184.5L2060.8,1188.3L2059.9,1193.7L2058.6,1195.0L2057.4,1193.7L2056.5,1186.6L2056.2,1185.6L2054.1,1182.3L2051.3,1180.9L2050.0,1181.0L2047.6,1182.0L2045.7,1184.5L2044.3,1189.2L2042.9,1192.2L2042.1,1198.2L2041.1,1197.5L2036.7,1192.8L2035.9,1192.3L2033.1,1191.3L2032.3,1191.4L2030.0,1192.2L2027.5,1194.9L2025.9,1198.2L2025.1,1214.8L2024.2,1225.5L2022.8,1227.3L2021.4,1229.8L2020.0,1235.0L2019.1,1246.0L2018.2,1245.4L2016.9,1242.7L2015.0,1239.8L2012.8,1237.2L2011.0,1234.0L2006.4,1231.4L2005.7,1226.1L2004.3,1220.3L2002.0,1216.2L2000.7,1211.2L1998.8,1207.4L1997.9,1206.8L1995.8,1205.9L1994.5,1206.0L1992.0,1207.0L1989.6,1210.1L1988.1,1214.1L1984.9,1207.9L1984.2,1207.1L1982.5,1205.9L1981.6,1197.9L1980.1,1193.4L1978.7,1191.2L1978.5,1190.1L1978.1,1189.5L1977.7,1189.1L1976.7,1188.6L1976.0,1188.4L1974.7,1188.6L1972.3,1190.7L1969.8,1193.7L1968.9,1179.2L1967.6,1169.0L1966.4,1162.8L1964.4,1157.9L1962.6,1143.7L1960.9,1139.7L1957.1,1132.6L1956.1,1131.5L1953.5,1130.2L1952.9,1130.1L1951.2,1130.4L1949.9,1131.2L1947.9,1133.4L1946.6,1137.0L1943.1,1139.0L1941.3,1142.1L1940.2,1153.6L1938.2,1157.1L1936.6,1162.8L1935.7,1175.4L1934.9,1178.9L1933.0,1182.5L1932.8,1183.4L1931.9,1191.6L1930.2,1193.0L1928.1,1193.7L1926.2,1190.7L1924.3,1188.0L1922.4,1173.0L1920.8,1168.7L1920.1,1162.9L1918.3,1158.8L1917.1,1157.7L1915.3,1156.7L1914.1,1156.5L1912.9,1156.8L1910.4,1158.2L1909.5,1159.0L1907.6,1164.1L1905.1,1190.4L1903.8,1192.7L1902.2,1197.3L1901.7,1209.0L1899.9,1208.3L1898.1,1205.8L1896.2,1201.8L1895.4,1193.6L1895.1,1192.7L1893.2,1189.0L1891.7,1175.4L1889.9,1166.9L1889.5,1165.9L1886.8,1162.6L1881.6,1160.4L1880.3,1160.5L1879.7,1160.7L1877.1,1162.6L1875.1,1166.3L1873.5,1165.0L1871.0,1163.4L1869.6,1163.4L1868.2,1163.9L1867.6,1164.3L1865.4,1166.6L1863.6,1169.6L1861.1,1172.8L1856.2,1180.1L1854.5,1184.4L1852.7,1186.3L1850.7,1189.3L1849.7,1198.1L1848.3,1202.4L1847.4,1217.3L1846.1,1226.2L1844.8,1230.0L1843.9,1227.4L1842.9,1219.9L1840.9,1217.2L1838.4,1216.1L1837.8,1212.0L1836.2,1207.8L1833.7,1205.7L1831.6,1205.2L1830.5,1200.8L1829.6,1193.6L1829.3,1192.7L1827.3,1189.3L1825.2,1188.0L1823.7,1183.9L1822.0,1181.3L1819.6,1178.9L1817.9,1176.2L1816.8,1175.2L1814.3,1174.3L1812.9,1174.5L1810.2,1176.0L1808.2,1179.1L1807.3,1186.8L1806.0,1194.3L1804.4,1198.8L1802.7,1195.4L1801.8,1188.0L1799.4,1183.9L1798.4,1183.2L1795.4,1182.4L1792.5,1183.3L1791.5,1183.9L1789.9,1186.3L1789.6,1187.2L1789.0,1190.5L1786.7,1192.0L1785.0,1193.4L1784.4,1194.2L1783.2,1196.6L1781.8,1204.4L1780.4,1207.4L1779.3,1212.1L1777.9,1215.1L1776.7,1219.8L1775.0,1207.3L1773.4,1200.7L1772.1,1193.1L1769.5,1163.8L1768.3,1152.7L1766.2,1147.5L1765.3,1146.8L1762.6,1145.6L1761.2,1145.8L1758.4,1147.1L1757.7,1148.0L1756.2,1151.4L1754.0,1173.9L1752.9,1189.3L1752.2,1190.2L1750.3,1191.6L1749.6,1192.2L1747.9,1195.0L1747.0,1201.9L1745.7,1206.5L1743.8,1205.7L1741.6,1206.0L1740.5,1206.5L1738.5,1208.1L1737.8,1208.9L1736.1,1212.6L1734.8,1219.9L1733.8,1219.2L1732.5,1215.5L1730.8,1213.5L1729.7,1208.3L1728.3,1203.6L1726.4,1200.2L1725.8,1199.6L1725.1,1199.2L1723.0,1198.4L1721.9,1198.5L1719.3,1199.4L1718.6,1199.7L1716.1,1201.7L1714.8,1203.4L1714.3,1204.6L1712.9,1217.3L1712.1,1227.5L1711.6,1224.9L1709.6,1205.9L1708.8,1201.2L1707.0,1197.7L1705.3,1187.0L1704.0,1183.4L1701.9,1166.4L1701.3,1155.8L1700.3,1152.7L1698.3,1149.7L1697.2,1148.8L1695.6,1148.2L1692.1,1142.1L1690.3,1140.9L1689.2,1140.5L1687.6,1140.9L1685.1,1142.9L1684.4,1144.0L1683.4,1146.9L1680.5,1146.3L1679.3,1146.6L1677.1,1147.9L1675.2,1151.0L1673.2,1197.0L1672.2,1208.2L1670.6,1212.2L1669.1,1204.5L1667.8,1189.2L1666.1,1176.5L1663.6,1160.1L1662.0,1155.2L1661.2,1154.4L1659.8,1153.4L1658.4,1152.9L1655.1,1153.0L1652.1,1154.8L1651.2,1155.7L1649.4,1158.9L1649.1,1159.8L1647.9,1170.1L1646.3,1172.2L1644.8,1174.7L1644.4,1175.9L1643.8,1187.8L1642.3,1192.2L1641.3,1208.3L1640.3,1212.2L1638.7,1205.8L1636.8,1191.9L1636.0,1183.3L1634.4,1179.4L1632.1,1176.4L1630.4,1166.3L1627.6,1142.6L1627.3,1141.7L1624.6,1137.1L1621.9,1135.7L1620.6,1135.5L1619.4,1135.9L1616.3,1138.1L1615.8,1139.1L1614.6,1143.1L1613.5,1155.3L1611.5,1159.5L1611.3,1160.4L1610.4,1170.9L1607.5,1182.8L1606.6,1173.2L1606.4,1172.3L1604.7,1169.1L1603.9,1168.2L1601.9,1167.4L1600.4,1167.3L1597.7,1168.9L1595.3,1173.1L1594.1,1177.9L1592.8,1184.1L1591.3,1189.4L1590.0,1196.3L1588.5,1192.7L1586.3,1189.7L1585.5,1189.0L1582.9,1188.3L1582.3,1188.2L1581.1,1188.4L1578.2,1190.0L1576.1,1193.5L1574.3,1199.8L1573.7,1222.3L1572.6,1225.6L1571.2,1224.3L1568.5,1222.9L1567.9,1219.8L1567.0,1208.2L1565.8,1203.3L1564.5,1194.5L1562.8,1188.0L1561.3,1178.9L1560.9,1178.0L1558.8,1174.4L1558.3,1173.8L1557.6,1173.4L1555.6,1172.5L1554.2,1172.4L1551.7,1173.6L1551.1,1174.1L1550.6,1174.7L1549.1,1178.1L1548.1,1183.5L1546.3,1184.9L1544.8,1187.6L1544.5,1188.5L1543.1,1202.0L1542.4,1219.8L1541.1,1225.6L1539.8,1222.3L1538.5,1216.1L1536.9,1214.0L1535.8,1213.3L1533.6,1212.5L1532.1,1212.4L1530.3,1212.9L1527.5,1211.6L1525.2,1204.4L1524.5,1194.1L1523.1,1189.6L1520.7,1186.2L1518.2,1184.9L1517.0,1184.6L1515.0,1185.2L1513.9,1186.0L1512.1,1188.3L1511.7,1189.1L1510.2,1193.5L1509.2,1200.8L1506.4,1202.1L1504.8,1203.6L1502.9,1207.7L1501.4,1205.0L1499.3,1202.4L1496.2,1200.4L1492.8,1199.5L1489.8,1198.4L1487.0,1198.2L1485.7,1194.0L1484.2,1191.8L1483.0,1190.9L1480.9,1190.1L1480.3,1190.1L1478.7,1190.6L1478.1,1190.9L1476.0,1193.2L1474.5,1194.4L1473.9,1189.3L1473.2,1177.7L1473.0,1176.7L1471.6,1173.9L1470.2,1169.3L1469.9,1168.5L1468.0,1166.1L1465.7,1164.9L1463.6,1163.0L1461.8,1162.0L1460.4,1161.8L1457.0,1163.2L1455.3,1165.9L1455.0,1166.8L1453.8,1173.9L1452.6,1177.5L1451.9,1186.7L1451.0,1202.0L1449.9,1212.9L1448.0,1214.1L1446.5,1210.6L1444.2,1207.6L1443.3,1206.9L1441.4,1206.1L1440.7,1205.9L1439.4,1206.1L1437.2,1207.1L1436.2,1208.0L1433.9,1211.9L1432.4,1217.1L1431.1,1230.1L1429.8,1237.7L1428.5,1235.4L1427.2,1232.5L1425.9,1224.4L1423.7,1221.2L1420.7,1219.9L1419.3,1220.1L1417.1,1221.3L1415.5,1223.9L1415.2,1224.8L1414.5,1230.1L1412.2,1226.7L1409.6,1224.6L1408.1,1222.4L1407.2,1216.1L1405.3,1212.9L1403.0,1211.5L1401.8,1211.4L1400.2,1211.6L1398.6,1210.8L1397.6,1208.6L1397.1,1208.2L1395.5,1207.6L1394.3,1207.5L1390.2,1208.4L1389.1,1205.1L1388.6,1204.2L1387.3,1202.7L1386.1,1198.5L1384.2,1195.3L1383.1,1194.3L1380.5,1193.1L1377.7,1192.1L1376.5,1192.0L1372.5,1193.7L1368.2,1194.6L1365.9,1195.7L1362.8,1197.7L1361.4,1200.4L1361.2,1201.2L1360.2,1210.9L1358.9,1208.3L1356.9,1205.3L1353.8,1203.7L1350.0,1204.0L1347.4,1205.5L1346.5,1206.5L1344.9,1209.3L1342.5,1209.2L1339.5,1209.9L1337.0,1207.2L1334.4,1206.0L1333.1,1205.8L1331.0,1206.6L1330.3,1207.0L1329.8,1207.6L1328.2,1210.4L1327.0,1215.4L1326.0,1207.1L1324.7,1183.0L1323.5,1171.4L1322.2,1151.0L1320.7,1133.3L1319.2,1126.6L1318.9,1125.8L1316.8,1122.8L1313.9,1121.4L1312.7,1121.5L1312.1,1121.8L1309.3,1123.7L1306.9,1128.6L1305.0,1131.9L1303.8,1149.0L1301.8,1153.1L1301.5,1154.1L1300.3,1168.7L1299.0,1173.0L1298.0,1188.4L1295.8,1191.2L1292.8,1194.2L1291.0,1197.0L1289.7,1205.8L1287.5,1176.5L1286.5,1155.0L1284.7,1142.1L1283.5,1131.2L1283.1,1130.1L1280.4,1126.2L1277.8,1125.0L1276.3,1124.8L1273.3,1126.3L1272.4,1127.1L1270.6,1132.2L1268.6,1161.1L1267.3,1165.4L1266.8,1178.0L1265.4,1177.8L1263.7,1174.4L1261.3,1171.5L1259.0,1170.5L1257.6,1170.4L1254.4,1172.1L1252.7,1174.8L1252.4,1175.8L1251.5,1181.6L1248.8,1170.2L1248.1,1169.0L1246.0,1166.8L1243.6,1157.8L1243.3,1157.0L1241.4,1154.3L1240.6,1153.5L1238.4,1152.8L1237.2,1152.8L1235.0,1153.8L1234.1,1154.5L1232.6,1157.7L1232.4,1158.5L1231.4,1167.6L1230.3,1181.0L1227.8,1181.6L1225.7,1183.0L1223.9,1185.8L1222.4,1190.5L1220.9,1188.0L1220.0,1180.3L1219.6,1179.2L1217.9,1176.7L1215.4,1173.4L1212.6,1172.4L1211.3,1172.3L1209.0,1173.3L1208.0,1174.2L1206.4,1176.8L1204.8,1181.6L1201.9,1184.1L1199.8,1186.8L1198.8,1193.2L1197.6,1198.2L1196.2,1195.8L1195.5,1195.1L1193.8,1193.7L1192.3,1191.0L1191.7,1190.3L1189.9,1188.6L1188.9,1182.9L1188.3,1176.4L1188.0,1175.5L1186.5,1172.5L1186.2,1172.0L1185.2,1171.3L1183.3,1170.6L1181.9,1170.4L1179.2,1171.7L1178.4,1172.4L1176.2,1176.9L1175.2,1184.4L1173.1,1186.4L1172.9,1186.3L1171.4,1183.4L1169.9,1177.9L1167.4,1158.8L1165.4,1150.4L1165.1,1149.6L1162.9,1146.3L1161.8,1145.4L1159.2,1144.2L1158.0,1144.3L1156.2,1145.0L1153.2,1148.1L1151.0,1152.0L1149.1,1160.1L1147.5,1175.2L1146.2,1184.0L1144.5,1187.9L1142.3,1190.5L1140.9,1193.6L1140.6,1193.8L1138.3,1193.7L1137.7,1188.3L1136.0,1183.4L1135.0,1175.3L1133.4,1172.5L1131.7,1166.0L1129.2,1161.6L1126.4,1160.0L1125.2,1159.8L1122.4,1160.7L1120.2,1163.1L1118.8,1161.0L1117.4,1156.5L1115.2,1153.0L1112.1,1151.3L1110.7,1151.4L1109.4,1151.9L1108.6,1152.4L1107.0,1153.9L1104.9,1157.4L1104.0,1163.6L1102.5,1167.2L1102.3,1168.1L1101.5,1189.2L1100.2,1200.6L1098.5,1204.8L1096.4,1213.5L1094.2,1189.7L1092.7,1186.1L1090.4,1183.5L1089.1,1180.5L1087.4,1168.8L1084.8,1155.9L1083.3,1152.0L1082.6,1150.9L1079.2,1149.4L1077.8,1149.6L1074.8,1151.1L1072.6,1154.9L1070.8,1183.7L1066.9,1192.2L1065.4,1199.7L1063.8,1202.0L1061.1,1203.3L1060.3,1204.0L1058.0,1206.7L1056.2,1209.7L1054.5,1224.3L1053.4,1214.9L1051.8,1207.6L1051.4,1206.7L1049.1,1203.4L1046.6,1202.1L1044.7,1202.0L1042.7,1199.4L1040.2,1197.0L1037.0,1196.4L1033.3,1197.7L1031.0,1200.4L1030.5,1201.3L1029.1,1206.5L1027.8,1202.0L1026.1,1191.9L1023.2,1187.8L1021.0,1186.7L1019.8,1186.4L1018.7,1186.7L1016.4,1188.1L1014.1,1191.9L1012.2,1206.4L1010.9,1211.2L1010.0,1217.8L1008.8,1220.4L1008.6,1220.4L1007.4,1219.1L1004.1,1197.6L1002.3,1194.7L1001.4,1193.8L1000.1,1193.1L997.4,1189.4L994.3,1188.0L992.9,1188.2L990.8,1189.2L990.1,1190.1L988.7,1192.8L987.5,1198.8L987.0,1196.8L985.8,1182.8L985.5,1181.8L984.1,1178.9L983.1,1174.0L981.6,1172.1L980.7,1166.8L980.4,1165.9L978.3,1162.9L975.5,1161.7L974.3,1161.9L972.1,1162.9L969.9,1165.9L969.6,1166.8L968.2,1173.1L966.2,1176.8L964.7,1181.3L963.7,1198.2L962.6,1199.1L962.2,1199.2L959.1,1198.5L956.6,1197.6L953.5,1196.7L950.4,1197.7L948.4,1200.1L943.6,1198.6L942.5,1198.8L939.9,1199.7L938.1,1197.5L936.5,1194.4L935.6,1176.6L934.0,1164.8L932.4,1161.0L931.8,1156.0L930.5,1151.0L929.2,1144.5L927.1,1138.4L925.1,1134.1L924.1,1133.0L922.1,1131.9L921.0,1131.6L919.8,1131.8L915.9,1133.9L913.1,1137.7L912.1,1145.8L910.5,1151.2L908.2,1166.3L906.5,1185.2L905.2,1185.2L902.7,1184.7L901.6,1184.7L898.7,1186.2L896.8,1188.9L896.4,1189.8L892.3,1210.9L891.1,1205.7L890.7,1204.8L888.8,1201.9L887.3,1198.6L884.8,1195.5L882.0,1176.6L879.6,1172.9L877.2,1170.1L874.4,1168.2L873.5,1161.7L871.7,1158.0L871.3,1157.5L870.4,1156.8L868.0,1156.0L865.7,1156.5L864.7,1157.1L862.6,1160.0L861.3,1168.9L859.7,1171.5L858.0,1174.9L857.8,1175.7L856.9,1183.5L854.8,1186.4L853.6,1188.9L853.3,1189.7L852.1,1204.5L850.2,1212.8L848.9,1204.6L847.9,1193.6L847.7,1192.7L846.3,1190.0L843.9,1188.1L841.7,1187.3L838.9,1186.7L837.8,1186.7L834.9,1188.1L832.8,1190.8L831.1,1194.8L829.8,1200.7L829.1,1197.4L827.6,1193.0L826.4,1185.7L825.1,1183.1L824.3,1182.2L820.8,1180.7L819.0,1180.9L818.0,1181.3L816.0,1182.8L815.4,1183.8L814.0,1189.2L812.1,1194.5L810.2,1200.5L808.9,1212.8L808.0,1208.3L807.0,1195.5L805.7,1192.2L804.5,1180.2L804.2,1179.3L802.5,1175.9L799.6,1174.0L798.4,1173.9L796.0,1174.2L792.8,1173.8L791.9,1173.8L788.5,1174.7L782.6,1179.3L781.9,1180.3L780.2,1184.4L778.3,1192.1L777.0,1212.2L775.7,1227.5L773.8,1237.1L771.8,1230.8L768.6,1228.1L766.8,1225.6L764.3,1221.2L763.6,1208.3L762.8,1203.2L762.5,1202.3L760.8,1199.5L760.0,1191.9L758.2,1189.2L756.0,1184.5L755.1,1183.8L753.1,1183.0L752.4,1183.0L751.3,1183.4L748.4,1185.5L745.6,1190.6L744.2,1205.7L742.6,1209.0L741.6,1207.0L739.3,1203.7L736.4,1202.4L735.3,1202.5L734.7,1202.7L731.8,1204.6L729.5,1207.9L729.1,1209.0L727.9,1218.0L724.8,1221.1L724.7,1221.2L723.2,1220.5L721.3,1219.9L719.8,1219.9L717.7,1220.6L715.1,1223.1L713.3,1223.4L712.2,1219.6L710.0,1216.1L706.8,1214.2L704.3,1214.1L703.4,1198.0L701.8,1190.3L699.8,1186.6L698.3,1172.9L696.7,1166.2L696.1,1157.9L695.8,1157.0L693.6,1152.6L692.7,1151.9L691.1,1151.2L690.0,1150.9L688.1,1151.4L687.0,1152.0L684.8,1155.7L684.5,1156.6L682.0,1177.6L680.4,1182.0L679.5,1194.2L676.3,1199.4L675.4,1189.3L674.7,1176.7L673.9,1172.8L673.2,1171.6L671.3,1169.7L669.7,1166.8L667.5,1164.1L666.5,1163.6L664.0,1163.0L663.0,1163.0L660.3,1163.5L657.2,1165.8L654.9,1171.7L653.9,1179.0L653.3,1186.7L650.1,1186.4L647.7,1187.1L646.8,1187.7L644.8,1190.6L643.1,1198.8L639.8,1201.9L639.6,1201.9L638.4,1191.0L638.2,1190.2L636.0,1186.2L633.2,1184.6L631.9,1184.4L629.4,1185.2L628.6,1186.1L626.8,1189.6L625.8,1194.5L623.6,1198.8L621.8,1196.8L620.8,1196.1L618.5,1195.2L616.9,1195.5L615.9,1196.1L614.1,1197.9L613.6,1198.7L611.6,1203.3L610.8,1196.9L609.9,1180.4L608.1,1176.7L606.1,1174.0L604.4,1163.8L602.2,1161.0L601.3,1160.3L597.8,1159.7L594.2,1160.9L593.2,1161.5L591.4,1164.6L591.1,1165.6L588.9,1185.2L586.3,1184.5L583.8,1185.3L581.3,1188.0L579.7,1193.7L578.0,1193.5L574.8,1194.4L572.0,1192.3L568.9,1191.1L565.2,1188.4L562.7,1188.0L560.8,1177.8L557.3,1172.8L555.1,1167.3L554.2,1166.5L552.4,1165.6L551.2,1165.3L550.1,1165.6L548.3,1166.5L547.4,1167.3L545.5,1172.1L544.1,1173.5L543.4,1174.7L542.3,1179.3L541.0,1192.4L538.9,1187.8L537.8,1172.7L535.4,1167.9L534.4,1167.2L533.3,1166.8L532.1,1166.6L531.6,1166.7L530.0,1167.6L527.3,1171.3L524.8,1176.2L523.4,1182.7L521.0,1187.1L519.8,1191.2L517.0,1190.4L514.6,1191.0L513.9,1191.3L513.3,1191.8L511.3,1194.4L510.1,1202.2L509.3,1214.8L505.6,1214.8L501.4,1214.2L498.7,1214.5L497.3,1215.1L495.1,1216.9L494.5,1217.9L492.2,1224.2L490.2,1233.8L487.7,1239.0L485.4,1223.1L482.5,1220.0L480.0,1219.2L478.1,1215.2L476.8,1202.0L474.3,1182.9L473.4,1166.3L473.1,1165.2L470.8,1161.2L469.8,1160.3L466.6,1158.5L465.4,1158.4L464.8,1158.6L462.2,1160.0L460.2,1162.5L458.4,1163.2L456.1,1166.4L454.1,1189.9L453.2,1187.9L451.2,1182.3L448.4,1179.7L447.0,1176.9L444.3,1174.0L442.8,1166.3L441.1,1155.0L438.6,1146.9L437.7,1146.1L434.7,1144.4L433.5,1144.4L432.9,1144.6L429.1,1146.7L427.7,1149.1L423.4,1151.8L422.5,1152.6L420.7,1157.7L420.0,1165.0L415.9,1166.3L415.1,1167.0L413.8,1168.9L410.5,1201.9L408.7,1203.8L408.5,1203.8L406.6,1200.6L404.7,1193.8L401.3,1190.3L400.5,1189.7L397.2,1188.4L395.9,1188.6L395.3,1189.0L387.1,1195.6L385.5,1194.2L384.0,1191.7L383.2,1190.9L380.8,1189.6L379.5,1189.5L378.0,1190.0L375.7,1192.8L375.3,1193.5L373.6,1198.7L371.2,1202.0L370.3,1195.3L369.4,1192.8L368.6,1191.8L365.8,1190.4L364.6,1184.2L363.3,1179.0L362.1,1171.7L360.5,1167.8L359.8,1166.9L359.3,1166.6L357.1,1165.5L356.0,1165.2L353.8,1165.7L351.4,1167.6L350.5,1163.7L349.2,1159.8L348.0,1151.1L346.2,1142.9L346.0,1142.2L345.4,1141.5L342.9,1139.4L341.9,1138.9L341.2,1138.8L340.1,1139.1L337.9,1140.4L337.1,1141.1L334.6,1147.6L333.3,1161.2L332.1,1172.6L330.7,1176.8L328.9,1194.3L327.6,1201.4L324.8,1202.9L321.3,1205.9L318.0,1214.1L314.8,1211.0L313.6,1201.3L313.3,1200.3L312.6,1199.2L311.7,1198.3L311.1,1198.0L310.5,1198.0L309.1,1198.2L306.8,1194.2L306.2,1193.5L304.6,1192.2L303.3,1191.7L301.9,1191.9L300.9,1192.6L300.4,1193.1L298.3,1197.0Z"/>
</g>
</g>
<rect x="237.5" y="145.5" width="2356.0" height="1406.0" fill="none" stroke="#000" stroke-width="3"/>
<g filter="url(#tw)" font-family="'Liberation Sans', sans-serif" font-weight="700" font-size="100" fill="#000">
<text transform="translate(1015.75,118.99) scale(0.6716,1.0264)">Total number of contacts</text>
<text transform="translate(1266.05,1726.80) scale(0.6673,0.9202)">Time (ns)</text>
<text transform="translate(190.86,1572.55) scale(0.5149,0.8654)">0</text>
<text transform="translate(159.72,1396.80) scale(0.5389,0.8654)">10</text>
<text transform="translate(160.35,1221.05) scale(0.5329,0.8654)">20</text>
<text transform="translate(160.90,1045.30) scale(0.5278,0.8654)">30</text>
<text transform="translate(161.44,869.55) scale(0.5228,0.8654)">40</text>
<text transform="translate(160.63,693.80) scale(0.5304,0.8654)">50</text>
<text transform="translate(160.35,518.05) scale(0.5329,0.8654)">60</text>
<text transform="translate(159.80,342.30) scale(0.5381,0.8654)">70</text>
<text transform="translate(160.63,166.55) scale(0.5304,0.8654)">80</text>
<text transform="translate(222.71,1628.15) scale(0.5149,0.8654)">0</text>
<text transform="translate(647.38,1628.15) scale(0.5451,0.8654)">1000</text>
<text transform="translate(1119.22,1628.15) scale(0.5421,0.8654)">2000</text>
<text transform="translate(1590.97,1628.15) scale(0.5396,0.8654)">3000</text>
<text transform="translate(2062.71,1628.15) scale(0.5371,0.8654)">4000</text>
<text transform="translate(2533.10,1628.15) scale(0.5409,0.8654)">5000</text>
</g>
<g filter="url(#twr)" font-family="'Liberation Sans', sans-serif" font-weight="700" font-size="100" fill="#000">
<text transform="translate(118.32,1016.87) rotate(-90) scale(0.6579,1.0935)"># Contacts</text>
</g>
<rect x="2021" y="174" width="543" height="267.5" rx="9" ry="9" fill="#fff" fill-opacity="0.8" stroke="#ccc" stroke-opacity="0.8" stroke-width="3.8"/>
<path d="M2036.2,219.5H2170.2" stroke="#4477AA" stroke-width="16.7"/>
<path d="M2036.2,302.5H2170.2" stroke="#228833" stroke-width="16.7"/>
<path d="M2036.2,385.5H2170.2" stroke="#AA3377" stroke-width="16.7"/>
<g filter="url(#tw)" font-family="'Liberation Sans', sans-serif" font-weight="700" font-size="100" fill="#000">
<text transform="translate(2207.05,238.97) scale(0.3946,0.5737)">Peptide-Water</text>
<text transform="translate(2207.16,322.37) scale(0.3781,0.5641)">Peptide-Lipid HGs</text>
<text transform="translate(2207.10,406.34) scale(0.3874,0.5705)">Peptide-Lipid tails</text>
</g>
</svg>
</body></html>
